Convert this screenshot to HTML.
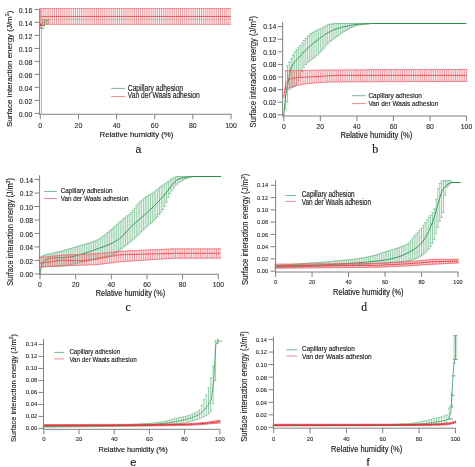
<!DOCTYPE html>
<html><head><meta charset="utf-8"><style>
html,body{margin:0;padding:0;background:#fff;overflow:hidden;}
svg{display:block;will-change:transform;}
text{stroke:#1a1a1a;stroke-width:0.16px;}
text.t{stroke-width:0.08px;}
text.yl{stroke-width:0.12px;}
</style></head><body>
<svg width='475' height='467' viewBox='0 0 475 467' font-family='"Liberation Sans", sans-serif' fill='#1a1a1a' stroke-linejoin='round'>
<rect width="475" height="467" fill="#fff"/>
<line x1="41.6" y1="113.40" x2="41.6" y2="25.00" stroke="#8fd0a5" stroke-width="1"/>
<path d="M42 25.72H45M41 28.32H43.7" stroke="#2a8f4c" stroke-width="1" fill="none"/>
<path d="M42.59 19.48V24.35M44.50 19.48V24.18M46.40 19.48V24.01M48.31 19.48V23.84" stroke="#7a9a60" stroke-width="0.7" fill="none" opacity="1.0"/>
<path d="M41.59 19.48H43.59M41.59 24.35H43.59M43.50 19.48H45.50M43.50 24.18H45.50M45.40 19.48H47.40M45.40 24.01H47.40M47.31 19.48H49.31M47.31 23.84H49.31" stroke="#7a9a60" stroke-width="0.7" fill="none" opacity="1.0"/>
<polyline points="42.59,23.05 42.68,23.00 42.77,22.95 42.86,22.89 42.96,22.84 43.05,22.79 43.14,22.74 43.23,22.69 43.32,22.63 43.41,22.58 43.51,22.53 43.60,22.48 43.69,22.42 43.78,22.37 43.87,22.32 43.96,22.27 44.06,22.22 44.15,22.16 44.24,22.11 44.33,22.06 44.42,22.01 44.51,21.96 44.61,21.90 44.70,21.85 44.79,21.80 44.88,21.75 44.97,21.70 45.07,21.64 45.16,21.59 45.25,21.54 45.34,21.49 45.43,21.43 45.52,21.38 45.62,21.33 45.71,21.28 45.80,21.23 45.89,21.17 45.98,21.12 46.07,21.08 46.17,21.04 46.26,21.00 46.35,20.96 46.44,20.92 46.53,20.88 46.62,20.84 46.72,20.80 46.81,20.76 46.90,20.73 46.99,20.69 47.08,20.65 47.17,20.61 47.27,20.57 47.36,20.53 47.45,20.49 47.54,20.45 47.63,20.41 47.73,20.37 47.82,20.33 47.91,20.30 48.00,20.26 48.09,20.22 48.18,20.18 48.28,20.14 48.37,20.10 48.46,20.06 48.55,20.02 48.64,19.98 48.73,19.94 48.83,19.90 48.92,19.87 49.01,19.83 49.10,19.79 49.19,19.75 49.28,19.71 49.38,19.67 49.47,19.63 49.56,19.59 49.65,19.55 49.74,19.51 49.83,19.48" stroke="#6a9a60" stroke-width="0.9" fill="none"/>
<line x1="49.83" y1="19.48" x2="231.00" y2="19.48" stroke="#a8c8a0" stroke-width="1" opacity="0.6"/>
<path d="M41.25 8.49V24.42M43.16 8.49V24.42M45.07 8.49V24.42M46.97 8.49V24.42M48.88 8.49V24.42M50.79 8.49V24.42M52.70 8.49V24.42M54.60 8.49V24.42M56.51 8.49V24.42M58.42 8.49V24.42M60.32 8.49V24.42M62.23 8.49V24.42M64.14 8.49V24.42M66.04 8.49V24.42M67.95 8.49V24.42M69.86 8.49V24.42M71.77 8.49V24.42M73.67 8.49V24.42M75.58 8.49V24.42M77.49 8.49V24.42M79.39 8.49V24.42M81.30 8.49V24.42M83.21 8.49V24.42M85.11 8.49V24.42M87.02 8.49V24.42M88.93 8.49V24.42M90.84 8.49V24.42M92.74 8.49V24.42M94.65 8.49V24.42M96.56 8.49V24.42M98.46 8.49V24.42M100.37 8.49V24.42M102.28 8.49V24.42M104.18 8.49V24.42M106.09 8.49V24.42M108.00 8.49V24.42M109.91 8.49V24.42M111.81 8.49V24.42M113.72 8.49V24.42M115.63 8.49V24.42M117.53 8.49V24.42M119.44 8.49V24.42M121.35 8.49V24.42M123.25 8.49V24.42M125.16 8.49V24.42M127.07 8.49V24.42M128.98 8.49V24.42M130.88 8.49V24.42M132.79 8.49V24.42M134.70 8.49V24.42M136.60 8.49V24.42M138.51 8.49V24.42M140.42 8.49V24.42M142.32 8.49V24.42M144.23 8.49V24.42M146.14 8.49V24.42M148.05 8.49V24.42M149.95 8.49V24.42M151.86 8.49V24.42M153.77 8.49V24.42M155.67 8.49V24.42M157.58 8.49V24.42M159.49 8.49V24.42M161.39 8.49V24.42M163.30 8.49V24.42M165.21 8.49V24.42M167.12 8.49V24.42M169.02 8.49V24.42M170.93 8.49V24.42M172.84 8.49V24.42M174.74 8.49V24.42M176.65 8.49V24.42M178.56 8.49V24.42M180.46 8.49V24.42M182.37 8.49V24.42M184.28 8.49V24.42M186.19 8.49V24.42M188.09 8.49V24.42M190.00 8.49V24.42M191.91 8.49V24.42M193.81 8.49V24.42M195.72 8.49V24.42M197.63 8.49V24.42M199.53 8.49V24.42M201.44 8.49V24.42M203.35 8.49V24.42M205.26 8.49V24.42M207.16 8.49V24.42M209.07 8.49V24.42M210.98 8.49V24.42M212.88 8.49V24.42M214.79 8.49V24.42M216.70 8.49V24.42M218.60 8.49V24.42M220.51 8.49V24.42M222.42 8.49V24.42M224.33 8.49V24.42M226.23 8.49V24.42M228.14 8.49V24.42M230.05 8.49V24.42" stroke="#ee6a72" stroke-width="0.7" fill="none" opacity="1.0"/>
<path d="M40.25 8.49H42.25M40.25 24.42H42.25M42.16 8.49H44.16M42.16 24.42H44.16M44.07 8.49H46.07M44.07 24.42H46.07M45.97 8.49H47.97M45.97 24.42H47.97M47.88 8.49H49.88M47.88 24.42H49.88M49.79 8.49H51.79M49.79 24.42H51.79M51.70 8.49H53.70M51.70 24.42H53.70M53.60 8.49H55.60M53.60 24.42H55.60M55.51 8.49H57.51M55.51 24.42H57.51M57.42 8.49H59.42M57.42 24.42H59.42M59.32 8.49H61.32M59.32 24.42H61.32M61.23 8.49H63.23M61.23 24.42H63.23M63.14 8.49H65.14M63.14 24.42H65.14M65.04 8.49H67.04M65.04 24.42H67.04M66.95 8.49H68.95M66.95 24.42H68.95M68.86 8.49H70.86M68.86 24.42H70.86M70.77 8.49H72.77M70.77 24.42H72.77M72.67 8.49H74.67M72.67 24.42H74.67M74.58 8.49H76.58M74.58 24.42H76.58M76.49 8.49H78.49M76.49 24.42H78.49M78.39 8.49H80.39M78.39 24.42H80.39M80.30 8.49H82.30M80.30 24.42H82.30M82.21 8.49H84.21M82.21 24.42H84.21M84.11 8.49H86.11M84.11 24.42H86.11M86.02 8.49H88.02M86.02 24.42H88.02M87.93 8.49H89.93M87.93 24.42H89.93M89.84 8.49H91.84M89.84 24.42H91.84M91.74 8.49H93.74M91.74 24.42H93.74M93.65 8.49H95.65M93.65 24.42H95.65M95.56 8.49H97.56M95.56 24.42H97.56M97.46 8.49H99.46M97.46 24.42H99.46M99.37 8.49H101.37M99.37 24.42H101.37M101.28 8.49H103.28M101.28 24.42H103.28M103.18 8.49H105.18M103.18 24.42H105.18M105.09 8.49H107.09M105.09 24.42H107.09M107.00 8.49H109.00M107.00 24.42H109.00M108.91 8.49H110.91M108.91 24.42H110.91M110.81 8.49H112.81M110.81 24.42H112.81M112.72 8.49H114.72M112.72 24.42H114.72M114.63 8.49H116.63M114.63 24.42H116.63M116.53 8.49H118.53M116.53 24.42H118.53M118.44 8.49H120.44M118.44 24.42H120.44M120.35 8.49H122.35M120.35 24.42H122.35M122.25 8.49H124.25M122.25 24.42H124.25M124.16 8.49H126.16M124.16 24.42H126.16M126.07 8.49H128.07M126.07 24.42H128.07M127.98 8.49H129.98M127.98 24.42H129.98M129.88 8.49H131.88M129.88 24.42H131.88M131.79 8.49H133.79M131.79 24.42H133.79M133.70 8.49H135.70M133.70 24.42H135.70M135.60 8.49H137.60M135.60 24.42H137.60M137.51 8.49H139.51M137.51 24.42H139.51M139.42 8.49H141.42M139.42 24.42H141.42M141.32 8.49H143.32M141.32 24.42H143.32M143.23 8.49H145.23M143.23 24.42H145.23M145.14 8.49H147.14M145.14 24.42H147.14M147.05 8.49H149.05M147.05 24.42H149.05M148.95 8.49H150.95M148.95 24.42H150.95M150.86 8.49H152.86M150.86 24.42H152.86M152.77 8.49H154.77M152.77 24.42H154.77M154.67 8.49H156.67M154.67 24.42H156.67M156.58 8.49H158.58M156.58 24.42H158.58M158.49 8.49H160.49M158.49 24.42H160.49M160.39 8.49H162.39M160.39 24.42H162.39M162.30 8.49H164.30M162.30 24.42H164.30M164.21 8.49H166.21M164.21 24.42H166.21M166.12 8.49H168.12M166.12 24.42H168.12M168.02 8.49H170.02M168.02 24.42H170.02M169.93 8.49H171.93M169.93 24.42H171.93M171.84 8.49H173.84M171.84 24.42H173.84M173.74 8.49H175.74M173.74 24.42H175.74M175.65 8.49H177.65M175.65 24.42H177.65M177.56 8.49H179.56M177.56 24.42H179.56M179.46 8.49H181.46M179.46 24.42H181.46M181.37 8.49H183.37M181.37 24.42H183.37M183.28 8.49H185.28M183.28 24.42H185.28M185.19 8.49H187.19M185.19 24.42H187.19M187.09 8.49H189.09M187.09 24.42H189.09M189.00 8.49H191.00M189.00 24.42H191.00M190.91 8.49H192.91M190.91 24.42H192.91M192.81 8.49H194.81M192.81 24.42H194.81M194.72 8.49H196.72M194.72 24.42H196.72M196.63 8.49H198.63M196.63 24.42H198.63M198.53 8.49H200.53M198.53 24.42H200.53M200.44 8.49H202.44M200.44 24.42H202.44M202.35 8.49H204.35M202.35 24.42H204.35M204.26 8.49H206.26M204.26 24.42H206.26M206.16 8.49H208.16M206.16 24.42H208.16M208.07 8.49H210.07M208.07 24.42H210.07M209.98 8.49H211.98M209.98 24.42H211.98M211.88 8.49H213.88M211.88 24.42H213.88M213.79 8.49H215.79M213.79 24.42H215.79M215.70 8.49H217.70M215.70 24.42H217.70M217.60 8.49H219.60M217.60 24.42H219.60M219.51 8.49H221.51M219.51 24.42H221.51M221.42 8.49H223.42M221.42 24.42H223.42M223.33 8.49H225.33M223.33 24.42H225.33M225.23 8.49H227.23M225.23 24.42H227.23M227.14 8.49H229.14M227.14 24.42H229.14M229.05 8.49H231.05M229.05 24.42H231.05" stroke="#ee6a72" stroke-width="0.7" fill="none" opacity="1.0"/>
<polyline points="41.25,16.48 43.66,16.48 46.06,16.48 48.46,16.48 50.86,16.48 53.26,16.48 55.66,16.48 58.07,16.48 60.47,16.48 62.87,16.48 65.27,16.48 67.67,16.48 70.08,16.48 72.48,16.48 74.88,16.48 77.28,16.48 79.68,16.48 82.09,16.48 84.49,16.48 86.89,16.48 89.29,16.48 91.69,16.48 94.09,16.48 96.50,16.48 98.90,16.48 101.30,16.48 103.70,16.48 106.10,16.48 108.51,16.48 110.91,16.48 113.31,16.48 115.71,16.48 118.11,16.48 120.51,16.48 122.92,16.48 125.32,16.48 127.72,16.48 130.12,16.48 132.52,16.48 134.93,16.48 137.33,16.48 139.73,16.48 142.13,16.48 144.53,16.48 146.94,16.48 149.34,16.48 151.74,16.48 154.14,16.48 156.54,16.48 158.94,16.48 161.35,16.48 163.75,16.48 166.15,16.48 168.55,16.48 170.95,16.48 173.36,16.48 175.76,16.48 178.16,16.48 180.56,16.48 182.96,16.48 185.36,16.48 187.77,16.48 190.17,16.48 192.57,16.48 194.97,16.48 197.37,16.48 199.78,16.48 202.18,16.48 204.58,16.48 206.98,16.48 209.38,16.48 211.79,16.48 214.19,16.48 216.59,16.48 218.99,16.48 221.39,16.48 223.79,16.48 226.20,16.48 228.60,16.48 231.00,16.48" stroke="#e8474f" stroke-width="0.9" fill="none"/>
<line x1="40.7" y1="8.5" x2="40.7" y2="29" stroke="#ee6a72" stroke-width="0.8"/>
<line x1="40.7" y1="23.5" x2="40.7" y2="26" stroke="#e82020" stroke-width="1.2"/>
<path d="M283.80 114.80V114.80M285.63 86.45V109.11M287.45 65.85V102.20M289.28 62.01V89.60M291.11 58.60V88.12M292.94 54.92V87.44M294.76 51.91V86.45M296.59 49.69V84.09M298.42 47.73V80.45M300.24 45.56V76.10M302.07 43.08V71.61M303.90 40.62V67.56M305.72 38.54V64.52M307.55 36.65V62.66M309.38 34.95V61.24M311.21 33.53V59.88M313.03 32.38V58.47M314.86 31.41V57.09M316.69 30.53V55.61M318.51 29.70V53.95M320.34 28.85V52.14M322.17 27.91V50.22M323.99 26.83V48.18M325.82 25.77V45.84M327.65 24.88V43.74M329.48 24.30V42.08M331.30 24.00V40.62M333.13 23.75V39.27M334.96 23.58V37.94M336.78 23.51V36.61M338.61 23.51V35.33M340.44 23.51V34.10M342.26 23.51V32.90M344.09 23.51V31.71M345.92 23.51V30.54M347.75 23.51V29.44M349.57 23.51V28.49M351.40 23.51V27.63M353.23 23.51V26.82M355.05 23.51V26.08M356.88 23.51V25.47M358.71 23.51V25.03M360.53 23.51V24.72M362.36 23.51V24.47M364.19 23.51V24.26M366.01 23.51V24.07M367.84 23.51V23.89M369.67 23.51V23.71M371.50 23.51V23.51" stroke="#68b885" stroke-width="0.7" fill="none" opacity="1.0"/>
<path d="M282.60 114.80H285.00M282.60 114.80H285.00M284.43 86.45H286.83M284.43 109.11H286.83M286.25 65.85H288.65M286.25 102.20H288.65M288.08 62.01H290.48M288.08 89.60H290.48M289.91 58.60H292.31M289.91 88.12H292.31M291.74 54.92H294.13M291.74 87.44H294.13M293.56 51.91H295.96M293.56 86.45H295.96M295.39 49.69H297.79M295.39 84.09H297.79M297.22 47.73H299.62M297.22 80.45H299.62M299.04 45.56H301.44M299.04 76.10H301.44M300.87 43.08H303.27M300.87 71.61H303.27M302.70 40.62H305.10M302.70 67.56H305.10M304.52 38.54H306.92M304.52 64.52H306.92M306.35 36.65H308.75M306.35 62.66H308.75M308.18 34.95H310.58M308.18 61.24H310.58M310.01 33.53H312.41M310.01 59.88H312.41M311.83 32.38H314.23M311.83 58.47H314.23M313.66 31.41H316.06M313.66 57.09H316.06M315.49 30.53H317.89M315.49 55.61H317.89M317.31 29.70H319.71M317.31 53.95H319.71M319.14 28.85H321.54M319.14 52.14H321.54M320.97 27.91H323.37M320.97 50.22H323.37M322.79 26.83H325.19M322.79 48.18H325.19M324.62 25.77H327.02M324.62 45.84H327.02M326.45 24.88H328.85M326.45 43.74H328.85M328.28 24.30H330.68M328.28 42.08H330.68M330.10 24.00H332.50M330.10 40.62H332.50M331.93 23.75H334.33M331.93 39.27H334.33M333.76 23.58H336.16M333.76 37.94H336.16M335.58 23.51H337.98M335.58 36.61H337.98M337.41 23.51H339.81M337.41 35.33H339.81M339.24 23.51H341.64M339.24 34.10H341.64M341.06 23.51H343.46M341.06 32.90H343.46M342.89 23.51H345.29M342.89 31.71H345.29M344.72 23.51H347.12M344.72 30.54H347.12M346.55 23.51H348.94M346.55 29.44H348.94M348.37 23.51H350.77M348.37 28.49H350.77M350.20 23.51H352.60M350.20 27.63H352.60M352.03 23.51H354.43M352.03 26.82H354.43M353.85 23.51H356.25M353.85 26.08H356.25M355.68 23.51H358.08M355.68 25.47H358.08M357.51 23.51H359.91M357.51 25.03H359.91M359.33 23.51H361.73M359.33 24.72H361.73M361.16 23.51H363.56M361.16 24.47H363.56M362.99 23.51H365.39M362.99 24.26H365.39M364.81 23.51H367.21M364.81 24.07H367.21M366.64 23.51H369.04M366.64 23.89H369.04M368.47 23.51H370.87M368.47 23.71H370.87M370.30 23.51H372.70M370.30 23.51H372.70" stroke="#68b885" stroke-width="0.7" fill="none" opacity="1.0"/>
<polyline points="283.80,114.80 284.91,102.40 286.02,93.45 287.13,88.03 288.24,82.08 289.35,75.53 290.46,70.04 291.57,66.98 292.68,64.90 293.79,63.21 294.90,61.81 296.01,60.59 297.12,59.46 298.23,58.31 299.34,57.05 300.45,55.75 301.56,54.49 302.67,53.26 303.78,52.07 304.89,50.92 306.00,49.80 307.11,48.72 308.22,47.68 309.33,46.68 310.44,45.71 311.55,44.77 312.66,43.85 313.77,42.95 314.88,42.06 315.99,41.18 317.10,40.31 318.21,39.46 319.32,38.62 320.43,37.80 321.54,37.00 322.65,36.22 323.76,35.46 324.87,34.70 325.98,33.95 327.09,33.22 328.20,32.54 329.31,31.91 330.42,31.35 331.53,30.83 332.64,30.34 333.75,29.88 334.86,29.44 335.97,29.04 337.08,28.66 338.19,28.30 339.30,27.97 340.41,27.66 341.52,27.37 342.63,27.09 343.74,26.83 344.85,26.58 345.96,26.34 347.07,26.11 348.18,25.88 349.29,25.65 350.40,25.43 351.51,25.21 352.62,25.00 353.73,24.81 354.84,24.64 355.95,24.49 357.07,24.38 358.18,24.28 359.29,24.20 360.40,24.12 361.51,24.05 362.62,23.98 363.73,23.92 364.84,23.86 365.95,23.81 367.06,23.75 368.17,23.69 369.28,23.64 370.39,23.58 371.50,23.51" stroke="#2a8f4c" stroke-width="0.9" fill="none"/>
<line x1="371.50" y1="23.51" x2="466.50" y2="23.51" stroke="#2a8f4c" stroke-width="1"/>
<path d="M283.80 95.90V97.16M285.63 70.70V89.60M287.45 70.66V88.24M289.28 70.63V87.41M291.11 70.59V86.89M292.94 70.56V86.45M294.76 70.52V85.99M296.59 70.49V85.57M298.42 70.46V85.18M300.24 70.43V84.82M302.07 70.40V84.50M303.90 70.37V84.21M305.72 70.34V83.94M307.55 70.32V83.70M309.38 70.29V83.49M311.21 70.26V83.30M313.03 70.24V83.12M314.86 70.21V82.95M316.69 70.19V82.78M318.51 70.17V82.62M320.34 70.15V82.47M322.17 70.13V82.34M323.99 70.11V82.23M325.82 70.09V82.14M327.65 70.07V82.08M329.48 70.05V82.04M331.30 70.03V82.02M333.13 70.02V82.00M334.96 70.00V81.98M336.78 69.98V81.96M338.61 69.97V81.95M340.44 69.95V81.93M342.26 69.94V81.91M344.09 69.93V81.90M345.92 69.91V81.88M347.75 69.90V81.87M349.57 69.89V81.85M351.40 69.88V81.84M353.23 69.87V81.83M355.05 69.86V81.81M356.88 69.84V81.80M358.71 69.84V81.79M360.53 69.83V81.78M362.36 69.82V81.77M364.19 69.81V81.75M366.01 69.80V81.74M367.84 69.79V81.73M369.67 69.78V81.72M371.50 69.78V81.72M373.32 69.77V81.71M375.15 69.76V81.70M376.98 69.76V81.69M378.80 69.75V81.68M380.63 69.74V81.67M382.46 69.74V81.67M384.29 69.73V81.66M386.11 69.73V81.65M387.94 69.72V81.65M389.77 69.72V81.64M391.59 69.71V81.63M393.42 69.71V81.63M395.25 69.70V81.62M397.07 69.70V81.62M398.90 69.69V81.61M400.73 69.69V81.61M402.56 69.69V81.60M404.38 69.68V81.60M406.21 69.68V81.59M408.04 69.67V81.59M409.86 69.67V81.58M411.69 69.66V81.58M413.52 69.66V81.57M415.34 69.65V81.57M417.17 69.65V81.56M419.00 69.64V81.56M420.83 69.64V81.55M422.65 69.64V81.55M424.48 69.63V81.55M426.31 69.62V81.54M428.13 69.62V81.54M429.96 69.61V81.53M431.79 69.61V81.53M433.61 69.60V81.52M435.44 69.60V81.52M437.27 69.59V81.51M439.10 69.58V81.51M440.92 69.58V81.50M442.75 69.57V81.50M444.58 69.56V81.49M446.40 69.55V81.49M448.23 69.54V81.48M450.06 69.54V81.47M451.88 69.53V81.47M453.71 69.52V81.46M455.54 69.51V81.46M457.37 69.50V81.45M459.19 69.49V81.44M461.02 69.48V81.43M462.85 69.46V81.43M464.67 69.45V81.42M466.50 69.44V81.41" stroke="#ee6a72" stroke-width="0.7" fill="none" opacity="1.0"/>
<path d="M282.60 95.90H285.00M282.60 97.16H285.00M284.43 70.70H286.83M284.43 89.60H286.83M286.25 70.66H288.65M286.25 88.24H288.65M288.08 70.63H290.48M288.08 87.41H290.48M289.91 70.59H292.31M289.91 86.89H292.31M291.74 70.56H294.13M291.74 86.45H294.13M293.56 70.52H295.96M293.56 85.99H295.96M295.39 70.49H297.79M295.39 85.57H297.79M297.22 70.46H299.62M297.22 85.18H299.62M299.04 70.43H301.44M299.04 84.82H301.44M300.87 70.40H303.27M300.87 84.50H303.27M302.70 70.37H305.10M302.70 84.21H305.10M304.52 70.34H306.92M304.52 83.94H306.92M306.35 70.32H308.75M306.35 83.70H308.75M308.18 70.29H310.58M308.18 83.49H310.58M310.01 70.26H312.41M310.01 83.30H312.41M311.83 70.24H314.23M311.83 83.12H314.23M313.66 70.21H316.06M313.66 82.95H316.06M315.49 70.19H317.89M315.49 82.78H317.89M317.31 70.17H319.71M317.31 82.62H319.71M319.14 70.15H321.54M319.14 82.47H321.54M320.97 70.13H323.37M320.97 82.34H323.37M322.79 70.11H325.19M322.79 82.23H325.19M324.62 70.09H327.02M324.62 82.14H327.02M326.45 70.07H328.85M326.45 82.08H328.85M328.28 70.05H330.68M328.28 82.04H330.68M330.10 70.03H332.50M330.10 82.02H332.50M331.93 70.02H334.33M331.93 82.00H334.33M333.76 70.00H336.16M333.76 81.98H336.16M335.58 69.98H337.98M335.58 81.96H337.98M337.41 69.97H339.81M337.41 81.95H339.81M339.24 69.95H341.64M339.24 81.93H341.64M341.06 69.94H343.46M341.06 81.91H343.46M342.89 69.93H345.29M342.89 81.90H345.29M344.72 69.91H347.12M344.72 81.88H347.12M346.55 69.90H348.94M346.55 81.87H348.94M348.37 69.89H350.77M348.37 81.85H350.77M350.20 69.88H352.60M350.20 81.84H352.60M352.03 69.87H354.43M352.03 81.83H354.43M353.85 69.86H356.25M353.85 81.81H356.25M355.68 69.84H358.08M355.68 81.80H358.08M357.51 69.84H359.91M357.51 81.79H359.91M359.33 69.83H361.73M359.33 81.78H361.73M361.16 69.82H363.56M361.16 81.77H363.56M362.99 69.81H365.39M362.99 81.75H365.39M364.81 69.80H367.21M364.81 81.74H367.21M366.64 69.79H369.04M366.64 81.73H369.04M368.47 69.78H370.87M368.47 81.72H370.87M370.30 69.78H372.70M370.30 81.72H372.70M372.12 69.77H374.52M372.12 81.71H374.52M373.95 69.76H376.35M373.95 81.70H376.35M375.78 69.76H378.18M375.78 81.69H378.18M377.60 69.75H380.00M377.60 81.68H380.00M379.43 69.74H381.83M379.43 81.67H381.83M381.26 69.74H383.66M381.26 81.67H383.66M383.09 69.73H385.49M383.09 81.66H385.49M384.91 69.73H387.31M384.91 81.65H387.31M386.74 69.72H389.14M386.74 81.65H389.14M388.57 69.72H390.97M388.57 81.64H390.97M390.39 69.71H392.79M390.39 81.63H392.79M392.22 69.71H394.62M392.22 81.63H394.62M394.05 69.70H396.45M394.05 81.62H396.45M395.87 69.70H398.27M395.87 81.62H398.27M397.70 69.69H400.10M397.70 81.61H400.10M399.53 69.69H401.93M399.53 81.61H401.93M401.36 69.69H403.75M401.36 81.60H403.75M403.18 69.68H405.58M403.18 81.60H405.58M405.01 69.68H407.41M405.01 81.59H407.41M406.84 69.67H409.24M406.84 81.59H409.24M408.66 69.67H411.06M408.66 81.58H411.06M410.49 69.66H412.89M410.49 81.58H412.89M412.32 69.66H414.72M412.32 81.57H414.72M414.14 69.65H416.54M414.14 81.57H416.54M415.97 69.65H418.37M415.97 81.56H418.37M417.80 69.64H420.20M417.80 81.56H420.20M419.63 69.64H422.03M419.63 81.55H422.03M421.45 69.64H423.85M421.45 81.55H423.85M423.28 69.63H425.68M423.28 81.55H425.68M425.11 69.62H427.51M425.11 81.54H427.51M426.93 69.62H429.33M426.93 81.54H429.33M428.76 69.61H431.16M428.76 81.53H431.16M430.59 69.61H432.99M430.59 81.53H432.99M432.41 69.60H434.81M432.41 81.52H434.81M434.24 69.60H436.64M434.24 81.52H436.64M436.07 69.59H438.47M436.07 81.51H438.47M437.90 69.58H440.30M437.90 81.51H440.30M439.72 69.58H442.12M439.72 81.50H442.12M441.55 69.57H443.95M441.55 81.50H443.95M443.38 69.56H445.78M443.38 81.49H445.78M445.20 69.55H447.60M445.20 81.49H447.60M447.03 69.54H449.43M447.03 81.48H449.43M448.86 69.54H451.26M448.86 81.47H451.26M450.68 69.53H453.08M450.68 81.47H453.08M452.51 69.52H454.91M452.51 81.46H454.91M454.34 69.51H456.74M454.34 81.46H456.74M456.17 69.50H458.56M456.17 81.45H458.56M457.99 69.49H460.39M457.99 81.44H460.39M459.82 69.48H462.22M459.82 81.43H462.22M461.65 69.46H464.05M461.65 81.43H464.05M463.47 69.45H465.87M463.47 81.42H465.87M465.30 69.44H467.70M465.30 81.41H467.70" stroke="#ee6a72" stroke-width="0.7" fill="none" opacity="1.0"/>
<polyline points="283.80,95.90 286.11,82.61 288.43,80.15 290.74,78.82 293.05,78.24 295.36,77.93 297.68,77.67 299.99,77.45 302.30,77.27 304.61,77.12 306.93,76.99 309.24,76.88 311.55,76.78 313.86,76.68 316.18,76.58 318.49,76.47 320.80,76.34 323.12,76.19 325.43,76.04 327.74,75.88 330.05,75.73 332.37,75.60 334.68,75.50 336.99,75.44 339.30,75.42 341.62,75.42 343.93,75.42 346.24,75.42 348.55,75.42 350.87,75.42 353.18,75.42 355.49,75.42 357.81,75.42 360.12,75.42 362.43,75.42 364.74,75.42 367.06,75.42 369.37,75.42 371.68,75.42 373.99,75.42 376.31,75.42 378.62,75.42 380.93,75.42 383.24,75.42 385.56,75.42 387.87,75.42 390.18,75.42 392.49,75.42 394.81,75.42 397.12,75.42 399.43,75.42 401.75,75.42 404.06,75.42 406.37,75.42 408.68,75.42 411.00,75.42 413.31,75.42 415.62,75.42 417.93,75.42 420.25,75.42 422.56,75.42 424.87,75.42 427.18,75.42 429.50,75.42 431.81,75.42 434.12,75.42 436.44,75.42 438.75,75.42 441.06,75.42 443.37,75.42 445.69,75.42 448.00,75.42 450.31,75.42 452.62,75.42 454.94,75.42 457.25,75.42 459.56,75.42 461.87,75.42 464.19,75.42 466.50,75.42" stroke="#e8474f" stroke-width="0.9" fill="none"/>
<path d="M40.00 273.90V273.90M41.78 256.44V267.09M43.57 255.41V266.85M45.35 254.80V266.67M47.13 254.45V266.53M48.91 254.16V266.43M50.70 253.77V266.36M52.48 253.30V266.31M54.26 252.87V266.27M56.05 252.45V266.23M57.83 252.03V266.18M59.61 251.61V266.11M61.40 251.18V266.02M63.18 250.71V265.88M64.96 250.22V265.69M66.75 249.70V265.44M68.53 249.17V265.14M70.31 248.63V264.80M72.09 248.08V264.42M73.88 247.53V264.02M75.66 246.99V263.61M77.44 246.47V263.18M79.23 245.95V262.76M81.01 245.44V262.35M82.79 244.92V261.95M84.58 244.39V261.54M86.36 243.85V261.11M88.14 243.28V260.68M89.92 242.70V260.23M91.71 242.13V259.78M93.49 241.53V259.33M95.27 240.86V258.87M97.06 240.10V258.42M98.84 239.18V257.99M100.62 238.07V257.60M102.41 236.81V257.24M104.19 235.43V256.88M105.97 233.97V256.52M107.75 232.47V256.13M109.54 230.97V255.69M111.32 229.50V255.18M113.10 227.95V254.60M114.89 226.33V253.91M116.67 224.69V252.90M118.45 223.06V251.31M120.24 221.49V249.76M122.02 220.02V248.35M123.80 218.62V246.98M125.58 217.23V245.62M127.37 215.79V244.25M129.15 214.27V242.85M130.93 212.59V241.41M132.72 210.61V239.91M134.50 208.26V238.36M136.28 205.85V236.75M138.06 203.69V235.12M139.85 201.94V233.46M141.63 200.39V231.76M143.41 198.97V230.01M145.20 197.66V228.26M146.98 196.48V226.55M148.76 195.43V224.95M150.55 194.40V223.43M152.33 193.30V221.92M154.11 192.02V220.31M155.89 190.56V218.51M157.68 189.05V216.56M159.46 187.63V214.48M161.24 186.33V212.17M163.03 185.09V209.56M164.81 183.87V206.50M166.59 182.60V202.18M168.38 181.26V197.48M170.16 179.97V193.73M171.94 178.87V190.74M173.72 177.83V188.10M175.51 176.91V185.87M177.29 176.51V184.08M179.07 176.51V182.58M180.86 176.51V181.29M182.64 176.51V180.21M184.42 176.51V179.29M186.21 176.51V178.50M187.99 176.51V177.85M189.77 176.51V177.35M191.56 176.51V176.93M193.34 176.51V176.51" stroke="#68b885" stroke-width="0.7" fill="none" opacity="1.0"/>
<path d="M38.80 273.90H41.20M38.80 273.90H41.20M40.58 256.44H42.98M40.58 267.09H42.98M42.37 255.41H44.77M42.37 266.85H44.77M44.15 254.80H46.55M44.15 266.67H46.55M45.93 254.45H48.33M45.93 266.53H48.33M47.71 254.16H50.12M47.71 266.43H50.12M49.50 253.77H51.90M49.50 266.36H51.90M51.28 253.30H53.68M51.28 266.31H53.68M53.06 252.87H55.46M53.06 266.27H55.46M54.85 252.45H57.25M54.85 266.23H57.25M56.63 252.03H59.03M56.63 266.18H59.03M58.41 251.61H60.81M58.41 266.11H60.81M60.20 251.18H62.60M60.20 266.02H62.60M61.98 250.71H64.38M61.98 265.88H64.38M63.76 250.22H66.16M63.76 265.69H66.16M65.55 249.70H67.95M65.55 265.44H67.95M67.33 249.17H69.73M67.33 265.14H69.73M69.11 248.63H71.51M69.11 264.80H71.51M70.89 248.08H73.29M70.89 264.42H73.29M72.68 247.53H75.08M72.68 264.02H75.08M74.46 246.99H76.86M74.46 263.61H76.86M76.24 246.47H78.64M76.24 263.18H78.64M78.03 245.95H80.43M78.03 262.76H80.43M79.81 245.44H82.21M79.81 262.35H82.21M81.59 244.92H83.99M81.59 261.95H83.99M83.38 244.39H85.78M83.38 261.54H85.78M85.16 243.85H87.56M85.16 261.11H87.56M86.94 243.28H89.34M86.94 260.68H89.34M88.72 242.70H91.12M88.72 260.23H91.12M90.51 242.13H92.91M90.51 259.78H92.91M92.29 241.53H94.69M92.29 259.33H94.69M94.07 240.86H96.47M94.07 258.87H96.47M95.86 240.10H98.26M95.86 258.42H98.26M97.64 239.18H100.04M97.64 257.99H100.04M99.42 238.07H101.82M99.42 257.60H101.82M101.20 236.81H103.61M101.20 257.24H103.61M102.99 235.43H105.39M102.99 256.88H105.39M104.77 233.97H107.17M104.77 256.52H107.17M106.55 232.47H108.95M106.55 256.13H108.95M108.34 230.97H110.74M108.34 255.69H110.74M110.12 229.50H112.52M110.12 255.18H112.52M111.90 227.95H114.30M111.90 254.60H114.30M113.69 226.33H116.09M113.69 253.91H116.09M115.47 224.69H117.87M115.47 252.90H117.87M117.25 223.06H119.65M117.25 251.31H119.65M119.04 221.49H121.44M119.04 249.76H121.44M120.82 220.02H123.22M120.82 248.35H123.22M122.60 218.62H125.00M122.60 246.98H125.00M124.38 217.23H126.78M124.38 245.62H126.78M126.17 215.79H128.57M126.17 244.25H128.57M127.95 214.27H130.35M127.95 242.85H130.35M129.73 212.59H132.13M129.73 241.41H132.13M131.52 210.61H133.92M131.52 239.91H133.92M133.30 208.26H135.70M133.30 238.36H135.70M135.08 205.85H137.48M135.08 236.75H137.48M136.87 203.69H139.26M136.87 235.12H139.26M138.65 201.94H141.05M138.65 233.46H141.05M140.43 200.39H142.83M140.43 231.76H142.83M142.21 198.97H144.61M142.21 230.01H144.61M144.00 197.66H146.40M144.00 228.26H146.40M145.78 196.48H148.18M145.78 226.55H148.18M147.56 195.43H149.96M147.56 224.95H149.96M149.35 194.40H151.75M149.35 223.43H151.75M151.13 193.30H153.53M151.13 221.92H153.53M152.91 192.02H155.31M152.91 220.31H155.31M154.69 190.56H157.09M154.69 218.51H157.09M156.48 189.05H158.88M156.48 216.56H158.88M158.26 187.63H160.66M158.26 214.48H160.66M160.04 186.33H162.44M160.04 212.17H162.44M161.83 185.09H164.23M161.83 209.56H164.23M163.61 183.87H166.01M163.61 206.50H166.01M165.39 182.60H167.79M165.39 202.18H167.79M167.18 181.26H169.58M167.18 197.48H169.58M168.96 179.97H171.36M168.96 193.73H171.36M170.74 178.87H173.14M170.74 190.74H173.14M172.53 177.83H174.92M172.53 188.10H174.92M174.31 176.91H176.71M174.31 185.87H176.71M176.09 176.51H178.49M176.09 184.08H178.49M177.87 176.51H180.27M177.87 182.58H180.27M179.66 176.51H182.06M179.66 181.29H182.06M181.44 176.51H183.84M181.44 180.21H183.84M183.22 176.51H185.62M183.22 179.29H185.62M185.01 176.51H187.41M185.01 178.50H187.41M186.79 176.51H189.19M186.79 177.85H189.19M188.57 176.51H190.97M188.57 177.35H190.97M190.36 176.51H192.75M190.36 176.93H192.75M192.14 176.51H194.54M192.14 176.51H194.54" stroke="#68b885" stroke-width="0.7" fill="none" opacity="1.0"/>
<polyline points="40.00,273.90 41.94,263.58 43.88,261.39 45.82,259.91 47.76,258.98 49.70,258.46 51.65,258.19 53.59,258.00 55.53,257.85 57.47,257.74 59.41,257.66 61.35,257.58 63.29,257.50 65.23,257.40 67.17,257.27 69.11,257.10 71.06,256.85 73.00,256.48 74.94,256.01 76.88,255.48 78.82,254.91 80.76,254.33 82.70,253.77 84.64,253.19 86.58,252.58 88.52,251.94 90.47,251.28 92.41,250.60 94.35,249.92 96.29,249.23 98.23,248.54 100.17,247.87 102.11,247.21 104.05,246.53 105.99,245.82 107.93,245.06 109.88,244.24 111.82,243.33 113.76,242.30 115.70,241.15 117.64,239.87 119.58,238.47 121.52,236.88 123.46,235.02 125.40,232.97 127.34,230.82 129.29,228.66 131.23,226.57 133.17,224.64 135.11,222.89 137.05,221.22 138.99,219.60 140.93,218.00 142.87,216.37 144.81,214.69 146.75,212.93 148.70,211.13 150.64,209.29 152.58,207.42 154.52,205.49 156.46,203.52 158.40,201.51 160.34,199.47 162.28,197.36 164.22,195.18 166.16,192.88 168.11,190.35 170.05,187.47 171.99,184.80 173.93,182.75 175.87,180.92 177.81,179.47 179.75,178.64 181.69,178.09 183.63,177.65 185.57,177.31 187.52,177.04 189.46,176.82 191.40,176.66 193.34,176.51" stroke="#2a8f4c" stroke-width="0.9" fill="none"/>
<line x1="193.34" y1="176.51" x2="220.97" y2="176.51" stroke="#2a8f4c" stroke-width="1"/>
<path d="M40.00 257.45V267.09M41.78 257.27V267.00M43.57 257.09V266.91M45.35 256.91V266.81M47.13 256.73V266.72M48.91 256.55V266.63M50.70 256.37V266.53M52.48 256.18V266.44M54.26 256.00V266.35M56.05 255.82V266.25M57.83 255.64V266.16M59.61 255.46V266.07M61.40 255.28V265.97M63.18 255.10V265.88M64.96 255.03V265.81M66.75 254.96V265.75M68.53 254.89V265.68M70.31 254.83V265.61M72.09 254.76V265.55M73.88 254.69V265.48M75.66 254.62V265.41M77.44 254.56V265.35M79.23 254.49V265.28M81.01 254.42V265.21M82.79 254.35V265.15M84.58 254.29V265.08M86.36 254.22V265.01M88.14 254.15V264.95M89.92 254.08V264.88M91.71 254.02V264.81M93.49 253.95V264.75M95.27 253.88V264.68M97.06 253.81V264.61M98.84 253.61V264.42M100.62 253.41V264.19M102.41 253.21V263.97M104.19 253.01V263.75M105.97 252.81V263.52M107.75 252.61V263.30M109.54 252.41V263.07M111.32 252.21V262.85M113.10 252.01V262.62M114.89 251.81V262.40M116.67 251.61V262.17M118.45 251.41V261.95M120.24 251.24V261.74M122.02 251.16V261.63M123.80 251.08V261.51M125.58 251.00V261.39M127.37 250.92V261.27M129.15 250.84V261.15M130.93 250.76V261.03M132.72 250.68V260.92M134.50 250.59V260.80M136.28 250.51V260.68M138.06 250.43V260.56M139.85 250.35V260.44M141.63 250.27V260.32M143.41 250.19V260.21M145.20 250.11V260.09M146.98 250.03V259.97M148.76 249.95V259.85M150.55 249.87V259.73M152.33 249.79V259.62M154.11 249.71V259.50M155.89 249.63V259.38M157.68 249.55V259.26M159.46 249.47V259.14M161.24 249.39V259.02M163.03 249.31V258.91M164.81 249.23V258.79M166.59 249.15V258.67M168.38 249.07V258.55M170.16 248.99V258.43M171.94 248.91V258.31M173.72 248.83V258.20M175.51 248.83V258.20M177.29 248.83V258.20M179.07 248.83V258.20M180.86 248.83V258.20M182.64 248.83V258.20M184.42 248.83V258.20M186.21 248.83V258.20M187.99 248.83V258.20M189.77 248.83V258.20M191.56 248.83V258.20M193.34 248.83V258.20M195.12 248.83V258.20M196.90 248.83V258.20M198.69 248.83V258.20M200.47 248.83V258.20M202.25 248.83V258.20M204.04 248.83V258.20M205.82 248.83V258.20M207.60 248.83V258.20M209.38 248.83V258.20M211.17 248.83V258.20M212.95 248.83V258.20M214.73 248.83V258.20M216.52 248.83V258.20M218.30 248.83V258.20M220.08 248.83V258.20" stroke="#ee6a72" stroke-width="0.7" fill="none" opacity="1.0"/>
<path d="M38.80 257.45H41.20M38.80 267.09H41.20M40.58 257.27H42.98M40.58 267.00H42.98M42.37 257.09H44.77M42.37 266.91H44.77M44.15 256.91H46.55M44.15 266.81H46.55M45.93 256.73H48.33M45.93 266.72H48.33M47.71 256.55H50.12M47.71 266.63H50.12M49.50 256.37H51.90M49.50 266.53H51.90M51.28 256.18H53.68M51.28 266.44H53.68M53.06 256.00H55.46M53.06 266.35H55.46M54.85 255.82H57.25M54.85 266.25H57.25M56.63 255.64H59.03M56.63 266.16H59.03M58.41 255.46H60.81M58.41 266.07H60.81M60.20 255.28H62.60M60.20 265.97H62.60M61.98 255.10H64.38M61.98 265.88H64.38M63.76 255.03H66.16M63.76 265.81H66.16M65.55 254.96H67.95M65.55 265.75H67.95M67.33 254.89H69.73M67.33 265.68H69.73M69.11 254.83H71.51M69.11 265.61H71.51M70.89 254.76H73.29M70.89 265.55H73.29M72.68 254.69H75.08M72.68 265.48H75.08M74.46 254.62H76.86M74.46 265.41H76.86M76.24 254.56H78.64M76.24 265.35H78.64M78.03 254.49H80.43M78.03 265.28H80.43M79.81 254.42H82.21M79.81 265.21H82.21M81.59 254.35H83.99M81.59 265.15H83.99M83.38 254.29H85.78M83.38 265.08H85.78M85.16 254.22H87.56M85.16 265.01H87.56M86.94 254.15H89.34M86.94 264.95H89.34M88.72 254.08H91.12M88.72 264.88H91.12M90.51 254.02H92.91M90.51 264.81H92.91M92.29 253.95H94.69M92.29 264.75H94.69M94.07 253.88H96.47M94.07 264.68H96.47M95.86 253.81H98.26M95.86 264.61H98.26M97.64 253.61H100.04M97.64 264.42H100.04M99.42 253.41H101.82M99.42 264.19H101.82M101.20 253.21H103.61M101.20 263.97H103.61M102.99 253.01H105.39M102.99 263.75H105.39M104.77 252.81H107.17M104.77 263.52H107.17M106.55 252.61H108.95M106.55 263.30H108.95M108.34 252.41H110.74M108.34 263.07H110.74M110.12 252.21H112.52M110.12 262.85H112.52M111.90 252.01H114.30M111.90 262.62H114.30M113.69 251.81H116.09M113.69 262.40H116.09M115.47 251.61H117.87M115.47 262.17H117.87M117.25 251.41H119.65M117.25 261.95H119.65M119.04 251.24H121.44M119.04 261.74H121.44M120.82 251.16H123.22M120.82 261.63H123.22M122.60 251.08H125.00M122.60 261.51H125.00M124.38 251.00H126.78M124.38 261.39H126.78M126.17 250.92H128.57M126.17 261.27H128.57M127.95 250.84H130.35M127.95 261.15H130.35M129.73 250.76H132.13M129.73 261.03H132.13M131.52 250.68H133.92M131.52 260.92H133.92M133.30 250.59H135.70M133.30 260.80H135.70M135.08 250.51H137.48M135.08 260.68H137.48M136.87 250.43H139.26M136.87 260.56H139.26M138.65 250.35H141.05M138.65 260.44H141.05M140.43 250.27H142.83M140.43 260.32H142.83M142.21 250.19H144.61M142.21 260.21H144.61M144.00 250.11H146.40M144.00 260.09H146.40M145.78 250.03H148.18M145.78 259.97H148.18M147.56 249.95H149.96M147.56 259.85H149.96M149.35 249.87H151.75M149.35 259.73H151.75M151.13 249.79H153.53M151.13 259.62H153.53M152.91 249.71H155.31M152.91 259.50H155.31M154.69 249.63H157.09M154.69 259.38H157.09M156.48 249.55H158.88M156.48 259.26H158.88M158.26 249.47H160.66M158.26 259.14H160.66M160.04 249.39H162.44M160.04 259.02H162.44M161.83 249.31H164.23M161.83 258.91H164.23M163.61 249.23H166.01M163.61 258.79H166.01M165.39 249.15H167.79M165.39 258.67H167.79M167.18 249.07H169.58M167.18 258.55H169.58M168.96 248.99H171.36M168.96 258.43H171.36M170.74 248.91H173.14M170.74 258.31H173.14M172.53 248.83H174.92M172.53 258.20H174.92M174.31 248.83H176.71M174.31 258.20H176.71M176.09 248.83H178.49M176.09 258.20H178.49M177.87 248.83H180.27M177.87 258.20H180.27M179.66 248.83H182.06M179.66 258.20H182.06M181.44 248.83H183.84M181.44 258.20H183.84M183.22 248.83H185.62M183.22 258.20H185.62M185.01 248.83H187.41M185.01 258.20H187.41M186.79 248.83H189.19M186.79 258.20H189.19M188.57 248.83H190.97M188.57 258.20H190.97M190.36 248.83H192.75M190.36 258.20H192.75M192.14 248.83H194.54M192.14 258.20H194.54M193.92 248.83H196.32M193.92 258.20H196.32M195.70 248.83H198.10M195.70 258.20H198.10M197.49 248.83H199.89M197.49 258.20H199.89M199.27 248.83H201.67M199.27 258.20H201.67M201.05 248.83H203.45M201.05 258.20H203.45M202.84 248.83H205.24M202.84 258.20H205.24M204.62 248.83H207.02M204.62 258.20H207.02M206.40 248.83H208.80M206.40 258.20H208.80M208.19 248.83H210.58M208.19 258.20H210.58M209.97 248.83H212.37M209.97 258.20H212.37M211.75 248.83H214.15M211.75 258.20H214.15M213.53 248.83H215.93M213.53 258.20H215.93M215.32 248.83H217.72M215.32 258.20H217.72M217.10 248.83H219.50M217.10 258.20H219.50M218.88 248.83H221.28M218.88 258.20H221.28" stroke="#ee6a72" stroke-width="0.7" fill="none" opacity="1.0"/>
<polyline points="40.00,263.32 42.28,262.97 44.56,262.63 46.84,262.28 49.12,261.94 51.40,261.59 53.68,261.25 55.96,260.91 58.24,260.56 60.52,260.22 62.80,260.28 65.07,260.35 67.35,260.41 69.63,260.47 71.91,260.54 74.19,260.60 76.47,260.67 78.75,260.73 81.03,260.79 83.31,260.67 85.59,260.39 87.87,260.11 90.15,259.83 92.43,259.55 94.71,259.27 96.99,258.99 99.27,258.59 101.55,258.17 103.83,257.74 106.11,257.32 108.39,256.90 110.67,256.47 112.95,256.05 115.22,255.62 117.50,255.20 119.78,254.78 122.06,254.70 124.34,254.64 126.62,254.58 128.90,254.52 131.18,254.46 133.46,254.40 135.74,254.34 138.02,254.28 140.30,254.22 142.58,254.16 144.86,254.10 147.14,254.04 149.42,253.98 151.70,253.92 153.98,253.86 156.26,253.80 158.54,253.74 160.82,253.68 163.09,253.62 165.37,253.56 167.65,253.50 169.93,253.44 172.21,253.38 174.49,253.34 176.77,253.34 179.05,253.34 181.33,253.34 183.61,253.34 185.89,253.34 188.17,253.34 190.45,253.34 192.73,253.34 195.01,253.34 197.29,253.34 199.57,253.34 201.85,253.34 204.13,253.34 206.41,253.34 208.69,253.34 210.96,253.34 213.24,253.34 215.52,253.34 217.80,253.34 220.08,253.34" stroke="#e8474f" stroke-width="0.9" fill="none"/>
<path d="M275.60 265.68V267.52M277.42 265.54V267.46M279.25 265.41V267.40M281.07 265.27V267.34M282.90 265.14V267.28M284.72 265.00V267.21M286.54 264.87V267.15M288.37 264.73V267.09M290.19 264.60V267.03M292.02 264.47V266.97M293.84 264.33V266.91M295.66 264.19V266.85M297.49 264.06V266.79M299.31 263.92V266.73M301.14 263.78V266.67M302.96 263.64V266.61M304.78 263.50V266.54M306.61 263.36V266.48M308.43 263.21V266.42M310.26 263.07V266.36M312.08 262.93V266.29M313.90 262.78V266.23M315.73 262.64V266.17M317.55 262.49V266.10M319.38 262.35V266.04M321.20 262.20V265.98M323.02 262.05V265.92M324.85 261.90V265.86M326.67 261.74V265.80M328.50 261.59V265.74M330.32 261.43V265.68M332.14 261.27V265.62M333.97 261.10V265.55M335.79 260.94V265.49M337.62 260.78V265.43M339.44 260.62V265.36M341.26 260.46V265.30M343.09 260.30V265.23M344.91 260.13V265.16M346.74 259.96V265.09M348.56 259.78V265.01M350.38 259.58V264.94M352.21 259.38V264.86M354.03 259.16V264.78M355.86 258.93V264.70M357.68 258.68V264.61M359.50 258.41V264.52M361.33 258.12V264.43M363.15 257.80V264.33M364.98 257.47V264.23M366.80 257.12V264.12M368.62 256.74V264.01M370.45 256.35V263.90M372.27 255.94V263.79M374.10 255.51V263.67M375.92 255.03V263.56M377.74 254.48V263.43M379.57 253.87V263.31M381.39 253.24V263.19M383.22 252.60V263.07M385.04 252.00V262.96M386.86 251.43V262.85M388.69 250.89V262.73M390.51 250.35V262.62M392.34 249.81V262.50M394.16 249.25V262.37M395.98 248.65V262.23M397.81 248.01V262.08M399.63 247.36V261.91M401.46 246.72V261.73M403.28 246.03V261.52M405.10 245.24V261.30M406.93 244.28V261.05M408.75 243.09V260.73M410.58 240.99V260.31M412.40 238.31V259.79M414.22 236.00V259.18M416.05 234.03V258.48M417.87 232.16V257.71M419.70 230.21V256.85M421.52 228.02V255.77M423.34 225.44V254.43M425.17 222.61V252.82M426.99 219.73V250.96M428.82 217.15V248.87M430.64 215.07V246.51M432.46 212.62V243.32M434.29 208.87V239.30M436.11 199.21V233.81M437.94 188.63V227.22M439.76 183.47V221.31M441.58 181.07V217.39M443.41 180.79V212.54M445.23 180.64V195.35M447.06 180.54V187.31M448.88 180.43V185.13M450.70 180.40V183.07" stroke="#68b885" stroke-width="0.7" fill="none" opacity="1.0"/>
<path d="M274.40 265.68H276.80M274.40 267.52H276.80M276.22 265.54H278.62M276.22 267.46H278.62M278.05 265.41H280.45M278.05 267.40H280.45M279.87 265.27H282.27M279.87 267.34H282.27M281.70 265.14H284.10M281.70 267.28H284.10M283.52 265.00H285.92M283.52 267.21H285.92M285.34 264.87H287.74M285.34 267.15H287.74M287.17 264.73H289.57M287.17 267.09H289.57M288.99 264.60H291.39M288.99 267.03H291.39M290.82 264.47H293.22M290.82 266.97H293.22M292.64 264.33H295.04M292.64 266.91H295.04M294.46 264.19H296.86M294.46 266.85H296.86M296.29 264.06H298.69M296.29 266.79H298.69M298.11 263.92H300.51M298.11 266.73H300.51M299.94 263.78H302.34M299.94 266.67H302.34M301.76 263.64H304.16M301.76 266.61H304.16M303.58 263.50H305.98M303.58 266.54H305.98M305.41 263.36H307.81M305.41 266.48H307.81M307.23 263.21H309.63M307.23 266.42H309.63M309.06 263.07H311.46M309.06 266.36H311.46M310.88 262.93H313.28M310.88 266.29H313.28M312.70 262.78H315.10M312.70 266.23H315.10M314.53 262.64H316.93M314.53 266.17H316.93M316.35 262.49H318.75M316.35 266.10H318.75M318.18 262.35H320.58M318.18 266.04H320.58M320.00 262.20H322.40M320.00 265.98H322.40M321.82 262.05H324.22M321.82 265.92H324.22M323.65 261.90H326.05M323.65 265.86H326.05M325.47 261.74H327.87M325.47 265.80H327.87M327.30 261.59H329.70M327.30 265.74H329.70M329.12 261.43H331.52M329.12 265.68H331.52M330.94 261.27H333.34M330.94 265.62H333.34M332.77 261.10H335.17M332.77 265.55H335.17M334.59 260.94H336.99M334.59 265.49H336.99M336.42 260.78H338.82M336.42 265.43H338.82M338.24 260.62H340.64M338.24 265.36H340.64M340.06 260.46H342.46M340.06 265.30H342.46M341.89 260.30H344.29M341.89 265.23H344.29M343.71 260.13H346.11M343.71 265.16H346.11M345.54 259.96H347.94M345.54 265.09H347.94M347.36 259.78H349.76M347.36 265.01H349.76M349.18 259.58H351.58M349.18 264.94H351.58M351.01 259.38H353.41M351.01 264.86H353.41M352.83 259.16H355.23M352.83 264.78H355.23M354.66 258.93H357.06M354.66 264.70H357.06M356.48 258.68H358.88M356.48 264.61H358.88M358.30 258.41H360.70M358.30 264.52H360.70M360.13 258.12H362.53M360.13 264.43H362.53M361.95 257.80H364.35M361.95 264.33H364.35M363.78 257.47H366.18M363.78 264.23H366.18M365.60 257.12H368.00M365.60 264.12H368.00M367.42 256.74H369.82M367.42 264.01H369.82M369.25 256.35H371.65M369.25 263.90H371.65M371.07 255.94H373.47M371.07 263.79H373.47M372.90 255.51H375.30M372.90 263.67H375.30M374.72 255.03H377.12M374.72 263.56H377.12M376.54 254.48H378.94M376.54 263.43H378.94M378.37 253.87H380.77M378.37 263.31H380.77M380.19 253.24H382.59M380.19 263.19H382.59M382.02 252.60H384.42M382.02 263.07H384.42M383.84 252.00H386.24M383.84 262.96H386.24M385.66 251.43H388.06M385.66 262.85H388.06M387.49 250.89H389.89M387.49 262.73H389.89M389.31 250.35H391.71M389.31 262.62H391.71M391.14 249.81H393.54M391.14 262.50H393.54M392.96 249.25H395.36M392.96 262.37H395.36M394.78 248.65H397.18M394.78 262.23H397.18M396.61 248.01H399.01M396.61 262.08H399.01M398.43 247.36H400.83M398.43 261.91H400.83M400.26 246.72H402.66M400.26 261.73H402.66M402.08 246.03H404.48M402.08 261.52H404.48M403.90 245.24H406.30M403.90 261.30H406.30M405.73 244.28H408.13M405.73 261.05H408.13M407.55 243.09H409.95M407.55 260.73H409.95M409.38 240.99H411.78M409.38 260.31H411.78M411.20 238.31H413.60M411.20 259.79H413.60M413.02 236.00H415.42M413.02 259.18H415.42M414.85 234.03H417.25M414.85 258.48H417.25M416.67 232.16H419.07M416.67 257.71H419.07M418.50 230.21H420.90M418.50 256.85H420.90M420.32 228.02H422.72M420.32 255.77H422.72M422.14 225.44H424.54M422.14 254.43H424.54M423.97 222.61H426.37M423.97 252.82H426.37M425.79 219.73H428.19M425.79 250.96H428.19M427.62 217.15H430.02M427.62 248.87H430.02M429.44 215.07H431.84M429.44 246.51H431.84M431.26 212.62H433.66M431.26 243.32H433.66M433.09 208.87H435.49M433.09 239.30H435.49M434.91 199.21H437.31M434.91 233.81H437.31M436.74 188.63H439.14M436.74 227.22H439.14M438.56 183.47H440.96M438.56 221.31H440.96M440.38 181.07H442.78M440.38 217.39H442.78M442.21 180.79H444.61M442.21 212.54H444.61M444.03 180.64H446.43M444.03 195.35H446.43M445.86 180.54H448.26M445.86 187.31H448.26M447.68 180.43H450.08M447.68 185.13H450.08M449.50 180.40H451.90M449.50 183.07H451.90" stroke="#68b885" stroke-width="0.7" fill="none" opacity="1.0"/>
<polyline points="275.60,266.29 277.82,266.24 280.03,266.18 282.25,266.13 284.47,266.08 286.68,266.03 288.90,265.98 291.12,265.93 293.33,265.88 295.55,265.83 297.77,265.78 299.98,265.73 302.20,265.67 304.41,265.61 306.63,265.54 308.85,265.48 311.06,265.41 313.28,265.33 315.50,265.25 317.71,265.16 319.93,265.07 322.15,264.98 324.36,264.88 326.58,264.77 328.80,264.66 331.01,264.55 333.23,264.43 335.45,264.31 337.66,264.18 339.88,264.05 342.10,263.91 344.31,263.77 346.53,263.63 348.74,263.48 350.96,263.33 353.18,263.17 355.39,263.01 357.61,262.85 359.83,262.68 362.04,262.51 364.26,262.32 366.48,262.13 368.69,261.93 370.91,261.71 373.13,261.48 375.34,261.24 377.56,260.98 379.78,260.70 381.99,260.41 384.21,260.10 386.43,259.75 388.64,259.34 390.86,258.87 393.07,258.34 395.29,257.75 397.51,257.12 399.72,256.41 401.94,255.58 404.16,254.64 406.37,253.60 408.59,252.48 410.81,251.28 413.02,250.00 415.24,248.56 417.46,246.92 419.67,245.03 421.89,242.78 424.11,239.66 426.32,235.81 428.54,231.54 430.76,226.60 432.97,220.92 435.19,214.35 437.40,206.26 439.62,198.53 441.84,191.33 444.05,187.56 446.27,185.30 448.49,183.83 450.70,182.76" stroke="#2a8f4c" stroke-width="0.9" fill="none"/>
<line x1="450.70" y1="182.49" x2="460.74" y2="182.49" stroke="#2a8f4c" stroke-width="1"/>
<path d="M275.60 264.21V268.19M277.42 264.19V268.18M279.25 264.18V268.16M281.07 264.17V268.14M282.90 264.15V268.12M284.72 264.14V268.11M286.54 264.13V268.09M288.37 264.11V268.07M290.19 264.10V268.06M292.02 264.09V268.04M293.84 264.07V268.02M295.66 264.06V268.00M297.49 264.05V267.99M299.31 264.03V267.97M301.14 264.02V267.95M302.96 264.01V267.94M304.78 263.99V267.92M306.61 263.98V267.90M308.43 263.97V267.88M310.26 263.95V267.87M312.08 263.94V267.85M313.90 263.93V267.83M315.73 263.91V267.81M317.55 263.90V267.80M319.38 263.88V267.78M321.20 263.87V267.76M323.02 263.86V267.75M324.85 263.84V267.73M326.67 263.83V267.71M328.50 263.82V267.69M330.32 263.80V267.68M332.14 263.79V267.66M333.97 263.78V267.64M335.79 263.76V267.63M337.62 263.75V267.61M339.44 263.74V267.59M341.26 263.72V267.57M343.09 263.71V267.56M344.91 263.70V267.54M346.74 263.68V267.52M348.56 263.67V267.51M350.38 263.66V267.49M352.21 263.64V267.47M354.03 263.63V267.45M355.86 263.62V267.44M357.68 263.60V267.42M359.50 263.59V267.40M361.33 263.58V267.38M363.15 263.56V267.37M364.98 263.55V267.35M366.80 263.54V267.33M368.62 263.52V267.32M370.45 263.51V267.30M372.27 263.50V267.28M374.10 263.48V267.26M375.92 263.47V267.25M377.74 263.37V267.23M379.57 263.27V267.21M381.39 263.18V267.13M383.22 263.08V267.04M385.04 262.98V266.95M386.86 262.88V266.87M388.69 262.78V266.78M390.51 262.69V266.69M392.34 262.59V266.61M394.16 262.49V266.52M395.98 262.39V266.43M397.81 262.29V266.35M399.63 262.20V266.26M401.46 262.10V266.17M403.28 262.00V266.09M405.10 261.90V266.00M406.93 261.80V265.91M408.75 261.63V265.80M410.58 261.46V265.68M412.40 261.29V265.56M414.22 261.12V265.45M416.05 260.95V265.33M417.87 260.78V265.22M419.70 260.61V265.10M421.52 260.44V264.98M423.34 260.27V264.87M425.17 260.10V264.75M426.99 259.93V264.64M428.82 259.76V264.52M430.64 259.59V264.40M432.46 259.42V264.29M434.29 259.30V264.18M436.11 259.30V264.08M437.94 259.30V263.98M439.76 259.30V263.89M441.58 259.30V263.79M443.41 259.30V263.69M445.23 259.30V263.60M447.06 259.30V263.50M448.88 259.30V263.40M450.70 259.30V263.31M452.53 259.30V263.21M454.35 259.30V263.11M456.18 259.30V263.01M458.00 259.30V262.92" stroke="#ec5a62" stroke-width="0.7" fill="none" opacity="1.0"/>
<path d="M274.40 264.21H276.80M274.40 268.19H276.80M276.22 264.19H278.62M276.22 268.18H278.62M278.05 264.18H280.45M278.05 268.16H280.45M279.87 264.17H282.27M279.87 268.14H282.27M281.70 264.15H284.10M281.70 268.12H284.10M283.52 264.14H285.92M283.52 268.11H285.92M285.34 264.13H287.74M285.34 268.09H287.74M287.17 264.11H289.57M287.17 268.07H289.57M288.99 264.10H291.39M288.99 268.06H291.39M290.82 264.09H293.22M290.82 268.04H293.22M292.64 264.07H295.04M292.64 268.02H295.04M294.46 264.06H296.86M294.46 268.00H296.86M296.29 264.05H298.69M296.29 267.99H298.69M298.11 264.03H300.51M298.11 267.97H300.51M299.94 264.02H302.34M299.94 267.95H302.34M301.76 264.01H304.16M301.76 267.94H304.16M303.58 263.99H305.98M303.58 267.92H305.98M305.41 263.98H307.81M305.41 267.90H307.81M307.23 263.97H309.63M307.23 267.88H309.63M309.06 263.95H311.46M309.06 267.87H311.46M310.88 263.94H313.28M310.88 267.85H313.28M312.70 263.93H315.10M312.70 267.83H315.10M314.53 263.91H316.93M314.53 267.81H316.93M316.35 263.90H318.75M316.35 267.80H318.75M318.18 263.88H320.58M318.18 267.78H320.58M320.00 263.87H322.40M320.00 267.76H322.40M321.82 263.86H324.22M321.82 267.75H324.22M323.65 263.84H326.05M323.65 267.73H326.05M325.47 263.83H327.87M325.47 267.71H327.87M327.30 263.82H329.70M327.30 267.69H329.70M329.12 263.80H331.52M329.12 267.68H331.52M330.94 263.79H333.34M330.94 267.66H333.34M332.77 263.78H335.17M332.77 267.64H335.17M334.59 263.76H336.99M334.59 267.63H336.99M336.42 263.75H338.82M336.42 267.61H338.82M338.24 263.74H340.64M338.24 267.59H340.64M340.06 263.72H342.46M340.06 267.57H342.46M341.89 263.71H344.29M341.89 267.56H344.29M343.71 263.70H346.11M343.71 267.54H346.11M345.54 263.68H347.94M345.54 267.52H347.94M347.36 263.67H349.76M347.36 267.51H349.76M349.18 263.66H351.58M349.18 267.49H351.58M351.01 263.64H353.41M351.01 267.47H353.41M352.83 263.63H355.23M352.83 267.45H355.23M354.66 263.62H357.06M354.66 267.44H357.06M356.48 263.60H358.88M356.48 267.42H358.88M358.30 263.59H360.70M358.30 267.40H360.70M360.13 263.58H362.53M360.13 267.38H362.53M361.95 263.56H364.35M361.95 267.37H364.35M363.78 263.55H366.18M363.78 267.35H366.18M365.60 263.54H368.00M365.60 267.33H368.00M367.42 263.52H369.82M367.42 267.32H369.82M369.25 263.51H371.65M369.25 267.30H371.65M371.07 263.50H373.47M371.07 267.28H373.47M372.90 263.48H375.30M372.90 267.26H375.30M374.72 263.47H377.12M374.72 267.25H377.12M376.54 263.37H378.94M376.54 267.23H378.94M378.37 263.27H380.77M378.37 267.21H380.77M380.19 263.18H382.59M380.19 267.13H382.59M382.02 263.08H384.42M382.02 267.04H384.42M383.84 262.98H386.24M383.84 266.95H386.24M385.66 262.88H388.06M385.66 266.87H388.06M387.49 262.78H389.89M387.49 266.78H389.89M389.31 262.69H391.71M389.31 266.69H391.71M391.14 262.59H393.54M391.14 266.61H393.54M392.96 262.49H395.36M392.96 266.52H395.36M394.78 262.39H397.18M394.78 266.43H397.18M396.61 262.29H399.01M396.61 266.35H399.01M398.43 262.20H400.83M398.43 266.26H400.83M400.26 262.10H402.66M400.26 266.17H402.66M402.08 262.00H404.48M402.08 266.09H404.48M403.90 261.90H406.30M403.90 266.00H406.30M405.73 261.80H408.13M405.73 265.91H408.13M407.55 261.63H409.95M407.55 265.80H409.95M409.38 261.46H411.78M409.38 265.68H411.78M411.20 261.29H413.60M411.20 265.56H413.60M413.02 261.12H415.42M413.02 265.45H415.42M414.85 260.95H417.25M414.85 265.33H417.25M416.67 260.78H419.07M416.67 265.22H419.07M418.50 260.61H420.90M418.50 265.10H420.90M420.32 260.44H422.72M420.32 264.98H422.72M422.14 260.27H424.54M422.14 264.87H424.54M423.97 260.10H426.37M423.97 264.75H426.37M425.79 259.93H428.19M425.79 264.64H428.19M427.62 259.76H430.02M427.62 264.52H430.02M429.44 259.59H431.84M429.44 264.40H431.84M431.26 259.42H433.66M431.26 264.29H433.66M433.09 259.30H435.49M433.09 264.18H435.49M434.91 259.30H437.31M434.91 264.08H437.31M436.74 259.30H439.14M436.74 263.98H439.14M438.56 259.30H440.96M438.56 263.89H440.96M440.38 259.30H442.78M440.38 263.79H442.78M442.21 259.30H444.61M442.21 263.69H444.61M444.03 259.30H446.43M444.03 263.60H446.43M445.86 259.30H448.26M445.86 263.50H448.26M447.68 259.30H450.08M447.68 263.40H450.08M449.50 259.30H451.90M449.50 263.31H451.90M451.33 259.30H453.73M451.33 263.21H453.73M453.15 259.30H455.55M453.15 263.11H455.55M454.98 259.30H457.38M454.98 263.01H457.38M456.80 259.30H459.20M456.80 262.92H459.20" stroke="#ec5a62" stroke-width="0.7" fill="none" opacity="1.0"/>
<polyline points="275.60,266.29 277.91,266.27 280.22,266.25 282.53,266.23 284.84,266.21 287.14,266.19 289.45,266.16 291.76,266.14 294.07,266.12 296.38,266.10 298.69,266.08 301.00,266.06 303.31,266.04 305.62,266.02 307.92,266.00 310.23,265.97 312.54,265.95 314.85,265.93 317.16,265.91 319.47,265.89 321.78,265.87 324.09,265.85 326.39,265.83 328.70,265.80 331.01,265.78 333.32,265.76 335.63,265.74 337.94,265.72 340.25,265.70 342.56,265.68 344.87,265.66 347.17,265.64 349.48,265.61 351.79,265.59 354.10,265.57 356.41,265.55 358.72,265.53 361.03,265.51 363.34,265.49 365.65,265.47 367.95,265.44 370.26,265.42 372.57,265.40 374.88,265.38 377.19,265.31 379.50,265.19 381.81,265.08 384.12,264.97 386.43,264.85 388.73,264.74 391.04,264.62 393.35,264.51 395.66,264.40 397.97,264.28 400.28,264.17 402.59,264.05 404.90,263.94 407.21,263.82 409.51,263.64 411.82,263.45 414.13,263.27 416.44,263.09 418.75,262.91 421.06,262.73 423.37,262.55 425.68,262.37 427.98,262.19 430.29,262.00 432.60,261.82 434.91,261.67 437.22,261.61 439.53,261.56 441.84,261.50 444.15,261.44 446.46,261.38 448.76,261.32 451.07,261.26 453.38,261.20 455.69,261.14 458.00,261.08" stroke="#e03a44" stroke-width="0.9" fill="none"/>
<path d="M43.80 426.00V427.20M46.09 425.97V427.17M48.38 425.94V427.14M50.66 425.92V427.11M52.95 425.89V427.09M55.24 425.87V427.06M57.53 425.84V427.03M59.82 425.82V427.00M62.10 425.80V426.97M64.39 425.78V426.95M66.68 425.75V426.92M68.97 425.73V426.89M71.26 425.71V426.86M73.54 425.69V426.83M75.83 425.66V426.81M78.12 425.64V426.78M80.41 425.62V426.75M82.70 425.59V426.72M84.98 425.56V426.69M87.27 425.54V426.67M89.56 425.51V426.64M91.85 425.48V426.61M94.14 425.45V426.58M96.42 425.42V426.55M98.71 425.38V426.52M101.00 425.35V426.49M103.29 425.31V426.46M105.58 425.27V426.42M107.86 425.23V426.39M110.15 425.18V426.36M112.44 425.14V426.33M114.73 425.09V426.29M117.02 425.03V426.26M119.30 424.97V426.23M121.59 424.89V426.20M123.88 424.81V426.17M126.17 424.71V426.13M128.46 424.61V426.10M130.74 424.50V426.07M133.03 424.38V426.03M135.32 424.26V426.00M137.61 424.12V425.96M139.90 423.98V425.92M142.18 423.83V425.87M144.47 423.67V425.82M146.76 423.50V425.77M149.05 423.33V425.71M151.34 423.13V425.64M153.62 422.90V425.57M155.91 422.64V425.48M158.20 422.34V425.39M160.49 422.01V425.28M162.78 421.64V425.15M165.06 421.25V425.02M167.35 420.83V424.87M169.64 420.29V424.71M171.93 419.63V424.53M174.22 418.93V424.34M176.50 418.28V424.13M178.79 417.75V423.86M181.08 417.31V423.51M183.37 416.89V423.10M185.66 416.40V422.63M187.94 415.77V422.11M190.23 415.01V421.54M192.52 414.09V420.94M194.81 413.01V420.30M197.10 411.73V419.56M199.38 409.81V418.70M201.67 405.17V417.72M203.96 399.76V416.59M206.25 395.15V415.32M208.54 387.88V414.00M210.82 377.86V411.85M213.11 366.05V403.68M215.40 340.72V380.52M217.69 339.24V343.37" stroke="#68b885" stroke-width="0.7" fill="none" opacity="1.0"/>
<path d="M42.60 426.00H45.00M42.60 427.20H45.00M44.89 425.97H47.29M44.89 427.17H47.29M47.18 425.94H49.58M47.18 427.14H49.58M49.46 425.92H51.86M49.46 427.11H51.86M51.75 425.89H54.15M51.75 427.09H54.15M54.04 425.87H56.44M54.04 427.06H56.44M56.33 425.84H58.73M56.33 427.03H58.73M58.62 425.82H61.02M58.62 427.00H61.02M60.90 425.80H63.30M60.90 426.97H63.30M63.19 425.78H65.59M63.19 426.95H65.59M65.48 425.75H67.88M65.48 426.92H67.88M67.77 425.73H70.17M67.77 426.89H70.17M70.06 425.71H72.46M70.06 426.86H72.46M72.34 425.69H74.74M72.34 426.83H74.74M74.63 425.66H77.03M74.63 426.81H77.03M76.92 425.64H79.32M76.92 426.78H79.32M79.21 425.62H81.61M79.21 426.75H81.61M81.50 425.59H83.90M81.50 426.72H83.90M83.78 425.56H86.18M83.78 426.69H86.18M86.07 425.54H88.47M86.07 426.67H88.47M88.36 425.51H90.76M88.36 426.64H90.76M90.65 425.48H93.05M90.65 426.61H93.05M92.94 425.45H95.34M92.94 426.58H95.34M95.22 425.42H97.62M95.22 426.55H97.62M97.51 425.38H99.91M97.51 426.52H99.91M99.80 425.35H102.20M99.80 426.49H102.20M102.09 425.31H104.49M102.09 426.46H104.49M104.38 425.27H106.78M104.38 426.42H106.78M106.66 425.23H109.06M106.66 426.39H109.06M108.95 425.18H111.35M108.95 426.36H111.35M111.24 425.14H113.64M111.24 426.33H113.64M113.53 425.09H115.93M113.53 426.29H115.93M115.82 425.03H118.22M115.82 426.26H118.22M118.10 424.97H120.50M118.10 426.23H120.50M120.39 424.89H122.79M120.39 426.20H122.79M122.68 424.81H125.08M122.68 426.17H125.08M124.97 424.71H127.37M124.97 426.13H127.37M127.26 424.61H129.66M127.26 426.10H129.66M129.54 424.50H131.94M129.54 426.07H131.94M131.83 424.38H134.23M131.83 426.03H134.23M134.12 424.26H136.52M134.12 426.00H136.52M136.41 424.12H138.81M136.41 425.96H138.81M138.70 423.98H141.10M138.70 425.92H141.10M140.98 423.83H143.38M140.98 425.87H143.38M143.27 423.67H145.67M143.27 425.82H145.67M145.56 423.50H147.96M145.56 425.77H147.96M147.85 423.33H150.25M147.85 425.71H150.25M150.14 423.13H152.54M150.14 425.64H152.54M152.42 422.90H154.82M152.42 425.57H154.82M154.71 422.64H157.11M154.71 425.48H157.11M157.00 422.34H159.40M157.00 425.39H159.40M159.29 422.01H161.69M159.29 425.28H161.69M161.58 421.64H163.98M161.58 425.15H163.98M163.86 421.25H166.26M163.86 425.02H166.26M166.15 420.83H168.55M166.15 424.87H168.55M168.44 420.29H170.84M168.44 424.71H170.84M170.73 419.63H173.13M170.73 424.53H173.13M173.02 418.93H175.42M173.02 424.34H175.42M175.30 418.28H177.70M175.30 424.13H177.70M177.59 417.75H179.99M177.59 423.86H179.99M179.88 417.31H182.28M179.88 423.51H182.28M182.17 416.89H184.57M182.17 423.10H184.57M184.46 416.40H186.86M184.46 422.63H186.86M186.74 415.77H189.14M186.74 422.11H189.14M189.03 415.01H191.43M189.03 421.54H191.43M191.32 414.09H193.72M191.32 420.94H193.72M193.61 413.01H196.01M193.61 420.30H196.01M195.90 411.73H198.30M195.90 419.56H198.30M198.18 409.81H200.58M198.18 418.70H200.58M200.47 405.17H202.87M200.47 417.72H202.87M202.76 399.76H205.16M202.76 416.59H205.16M205.05 395.15H207.45M205.05 415.32H207.45M207.34 387.88H209.74M207.34 414.00H209.74M209.62 377.86H212.02M209.62 411.85H212.02M211.91 366.05H214.31M211.91 403.68H214.31M214.20 340.72H216.60M214.20 380.52H216.60M216.49 339.24H218.89M216.49 343.37H218.89" stroke="#68b885" stroke-width="0.7" fill="none" opacity="1.0"/>
<polyline points="43.80,426.60 46.01,426.57 48.21,426.54 50.42,426.52 52.62,426.49 54.83,426.47 57.03,426.44 59.24,426.42 61.44,426.39 63.65,426.37 65.86,426.34 68.06,426.32 70.27,426.29 72.47,426.27 74.68,426.24 76.88,426.22 79.09,426.19 81.29,426.17 83.50,426.14 85.71,426.11 87.91,426.09 90.12,426.06 92.32,426.03 94.53,426.00 96.73,425.97 98.94,425.94 101.14,425.91 103.35,425.88 105.56,425.84 107.76,425.81 109.97,425.77 112.17,425.74 114.38,425.70 116.58,425.66 118.79,425.62 120.99,425.58 123.20,425.54 125.41,425.50 127.61,425.46 129.82,425.41 132.02,425.36 134.23,425.31 136.43,425.25 138.64,425.19 140.85,425.12 143.05,425.05 145.26,424.97 147.46,424.88 149.67,424.79 151.87,424.66 154.08,424.50 156.28,424.29 158.49,424.06 160.70,423.81 162.90,423.53 165.11,423.25 167.31,422.96 169.52,422.65 171.72,422.31 173.93,421.95 176.13,421.55 178.34,421.12 180.55,420.65 182.75,420.15 184.96,419.61 187.16,419.04 189.37,418.41 191.57,417.70 193.78,416.89 195.98,415.96 198.19,414.88 200.40,413.52 202.60,411.58 204.81,409.16 207.01,406.48 209.22,403.61 211.42,398.72 213.63,380.91 215.83,344.71 218.04,340.80" stroke="#3a9a5a" stroke-width="0.8" fill="none"/>
<line x1="217.34" y1="341.10" x2="221.91" y2="341.10" stroke="#2a8f4c" stroke-width="0.9" opacity="0.8"/>
<path d="M43.80 424.50V426.12M45.56 424.50V426.12M47.32 424.49V426.12M49.08 424.49V426.11M50.84 424.49V426.11M52.60 424.48V426.11M54.36 424.48V426.11M56.12 424.48V426.11M57.88 424.47V426.10M59.64 424.47V426.10M61.40 424.47V426.10M63.16 424.47V426.10M64.92 424.46V426.10M66.68 424.46V426.09M68.44 424.46V426.09M70.20 424.46V426.09M71.96 424.45V426.09M73.72 424.45V426.09M75.48 424.45V426.09M77.24 424.44V426.08M79.00 424.44V426.08M80.76 424.44V426.08M82.52 424.44V426.08M84.28 424.43V426.08M86.04 424.43V426.08M87.80 424.43V426.07M89.56 424.43V426.07M91.32 424.42V426.07M93.08 424.42V426.07M94.84 424.42V426.07M96.60 424.41V426.06M98.36 424.41V426.06M100.12 424.41V426.06M101.88 424.40V426.06M103.64 424.40V426.05M105.40 424.40V426.05M107.16 424.39V426.05M108.92 424.39V426.05M110.68 424.38V426.04M112.44 424.38V426.04M114.20 424.37V426.04M115.96 424.37V426.03M117.72 424.37V426.03M119.48 424.36V426.03M121.24 424.35V426.02M123.00 424.35V426.02M124.76 424.34V426.02M126.52 424.34V426.01M128.28 424.33V426.01M130.04 424.33V426.00M131.80 424.32V426.00M133.56 424.31V425.99M135.32 424.31V425.99M137.08 424.30V425.98M138.84 424.29V425.97M140.60 424.28V425.97M142.36 424.27V425.96M144.12 424.26V425.94M145.88 424.25V425.93M147.64 424.23V425.92M149.40 424.22V425.91M151.16 424.20V425.89M152.92 424.19V425.87M154.68 424.17V425.86M156.44 424.16V425.84M158.20 424.14V425.82M159.96 424.12V425.80M161.72 424.10V425.78M163.48 424.08V425.76M165.24 424.05V425.73M167.00 424.03V425.71M168.76 424.00V425.68M170.52 423.98V425.66M172.28 423.95V425.63M174.04 423.92V425.60M175.80 423.89V425.57M177.56 423.86V425.54M179.32 423.83V425.50M181.08 423.79V425.47M182.84 423.76V425.44M184.60 423.72V425.40M186.36 423.67V425.36M188.12 423.61V425.30M189.88 423.53V425.22M191.64 423.44V425.14M193.40 423.34V425.04M195.16 423.23V424.94M196.92 423.11V424.84M198.68 422.98V424.73M200.44 422.84V424.61M202.20 422.70V424.50M203.96 422.54V424.38M205.72 422.34V424.25M207.48 422.12V424.11M209.24 421.88V423.95M211.00 421.62V423.80M212.76 421.35V423.64M214.52 421.08V423.47M216.28 420.81V423.31M218.04 420.55V423.15M219.80 420.30V423.00" stroke="#e83c44" stroke-width="0.7" fill="none" opacity="1.0"/>
<path d="M43.00 424.50H44.60M43.00 426.12H44.60M44.76 424.50H46.36M44.76 426.12H46.36M46.52 424.49H48.12M46.52 426.12H48.12M48.28 424.49H49.88M48.28 426.11H49.88M50.04 424.49H51.64M50.04 426.11H51.64M51.80 424.48H53.40M51.80 426.11H53.40M53.56 424.48H55.16M53.56 426.11H55.16M55.32 424.48H56.92M55.32 426.11H56.92M57.08 424.47H58.68M57.08 426.10H58.68M58.84 424.47H60.44M58.84 426.10H60.44M60.60 424.47H62.20M60.60 426.10H62.20M62.36 424.47H63.96M62.36 426.10H63.96M64.12 424.46H65.72M64.12 426.10H65.72M65.88 424.46H67.48M65.88 426.09H67.48M67.64 424.46H69.24M67.64 426.09H69.24M69.40 424.46H71.00M69.40 426.09H71.00M71.16 424.45H72.76M71.16 426.09H72.76M72.92 424.45H74.52M72.92 426.09H74.52M74.68 424.45H76.28M74.68 426.09H76.28M76.44 424.44H78.04M76.44 426.08H78.04M78.20 424.44H79.80M78.20 426.08H79.80M79.96 424.44H81.56M79.96 426.08H81.56M81.72 424.44H83.32M81.72 426.08H83.32M83.48 424.43H85.08M83.48 426.08H85.08M85.24 424.43H86.84M85.24 426.08H86.84M87.00 424.43H88.60M87.00 426.07H88.60M88.76 424.43H90.36M88.76 426.07H90.36M90.52 424.42H92.12M90.52 426.07H92.12M92.28 424.42H93.88M92.28 426.07H93.88M94.04 424.42H95.64M94.04 426.07H95.64M95.80 424.41H97.40M95.80 426.06H97.40M97.56 424.41H99.16M97.56 426.06H99.16M99.32 424.41H100.92M99.32 426.06H100.92M101.08 424.40H102.68M101.08 426.06H102.68M102.84 424.40H104.44M102.84 426.05H104.44M104.60 424.40H106.20M104.60 426.05H106.20M106.36 424.39H107.96M106.36 426.05H107.96M108.12 424.39H109.72M108.12 426.05H109.72M109.88 424.38H111.48M109.88 426.04H111.48M111.64 424.38H113.24M111.64 426.04H113.24M113.40 424.37H115.00M113.40 426.04H115.00M115.16 424.37H116.76M115.16 426.03H116.76M116.92 424.37H118.52M116.92 426.03H118.52M118.68 424.36H120.28M118.68 426.03H120.28M120.44 424.35H122.04M120.44 426.02H122.04M122.20 424.35H123.80M122.20 426.02H123.80M123.96 424.34H125.56M123.96 426.02H125.56M125.72 424.34H127.32M125.72 426.01H127.32M127.48 424.33H129.08M127.48 426.01H129.08M129.24 424.33H130.84M129.24 426.00H130.84M131.00 424.32H132.60M131.00 426.00H132.60M132.76 424.31H134.36M132.76 425.99H134.36M134.52 424.31H136.12M134.52 425.99H136.12M136.28 424.30H137.88M136.28 425.98H137.88M138.04 424.29H139.64M138.04 425.97H139.64M139.80 424.28H141.40M139.80 425.97H141.40M141.56 424.27H143.16M141.56 425.96H143.16M143.32 424.26H144.92M143.32 425.94H144.92M145.08 424.25H146.68M145.08 425.93H146.68M146.84 424.23H148.44M146.84 425.92H148.44M148.60 424.22H150.20M148.60 425.91H150.20M150.36 424.20H151.96M150.36 425.89H151.96M152.12 424.19H153.72M152.12 425.87H153.72M153.88 424.17H155.48M153.88 425.86H155.48M155.64 424.16H157.24M155.64 425.84H157.24M157.40 424.14H159.00M157.40 425.82H159.00M159.16 424.12H160.76M159.16 425.80H160.76M160.92 424.10H162.52M160.92 425.78H162.52M162.68 424.08H164.28M162.68 425.76H164.28M164.44 424.05H166.04M164.44 425.73H166.04M166.20 424.03H167.80M166.20 425.71H167.80M167.96 424.00H169.56M167.96 425.68H169.56M169.72 423.98H171.32M169.72 425.66H171.32M171.48 423.95H173.08M171.48 425.63H173.08M173.24 423.92H174.84M173.24 425.60H174.84M175.00 423.89H176.60M175.00 425.57H176.60M176.76 423.86H178.36M176.76 425.54H178.36M178.52 423.83H180.12M178.52 425.50H180.12M180.28 423.79H181.88M180.28 425.47H181.88M182.04 423.76H183.64M182.04 425.44H183.64M183.80 423.72H185.40M183.80 425.40H185.40M185.56 423.67H187.16M185.56 425.36H187.16M187.32 423.61H188.92M187.32 425.30H188.92M189.08 423.53H190.68M189.08 425.22H190.68M190.84 423.44H192.44M190.84 425.14H192.44M192.60 423.34H194.20M192.60 425.04H194.20M194.36 423.23H195.96M194.36 424.94H195.96M196.12 423.11H197.72M196.12 424.84H197.72M197.88 422.98H199.48M197.88 424.73H199.48M199.64 422.84H201.24M199.64 424.61H201.24M201.40 422.70H203.00M201.40 424.50H203.00M203.16 422.54H204.76M203.16 424.38H204.76M204.92 422.34H206.52M204.92 424.25H206.52M206.68 422.12H208.28M206.68 424.11H208.28M208.44 421.88H210.04M208.44 423.95H210.04M210.20 421.62H211.80M210.20 423.80H211.80M211.96 421.35H213.56M211.96 423.64H213.56M213.72 421.08H215.32M213.72 423.47H215.32M215.48 420.81H217.08M215.48 423.31H217.08M217.24 420.55H218.84M217.24 423.15H218.84M219.00 420.30H220.60M219.00 423.00H220.60" stroke="#e83c44" stroke-width="0.7" fill="none" opacity="1.0"/>
<polyline points="43.80,425.28 46.03,425.28 48.26,425.27 50.48,425.27 52.71,425.26 54.94,425.26 57.17,425.26 59.39,425.25 61.62,425.25 63.85,425.24 66.08,425.24 68.31,425.24 70.53,425.23 72.76,425.23 74.99,425.23 77.22,425.22 79.45,425.22 81.67,425.22 83.90,425.21 86.13,425.21 88.36,425.21 90.58,425.20 92.81,425.20 95.04,425.20 97.27,425.19 99.50,425.19 101.72,425.18 103.95,425.18 106.18,425.17 108.41,425.17 110.64,425.16 112.86,425.16 115.09,425.15 117.32,425.15 119.55,425.14 121.77,425.13 124.00,425.13 126.23,425.12 128.46,425.11 130.69,425.10 132.91,425.10 135.14,425.09 137.37,425.08 139.60,425.06 141.83,425.05 144.05,425.04 146.28,425.02 148.51,425.00 150.74,424.99 152.96,424.97 155.19,424.94 157.42,424.92 159.65,424.90 161.88,424.87 164.10,424.84 166.33,424.81 168.56,424.78 170.79,424.75 173.02,424.71 175.24,424.68 177.47,424.64 179.70,424.60 181.93,424.55 184.15,424.51 186.38,424.46 188.61,424.38 190.84,424.29 193.07,424.18 195.29,424.05 197.52,423.91 199.75,423.77 201.98,423.62 204.21,423.44 206.43,423.23 208.66,423.00 210.89,422.74 213.12,422.47 215.34,422.20 217.57,421.93 219.80,421.68" stroke="#e0242c" stroke-width="0.9" fill="none"/>
<path d="M273.70 425.20V425.83M276.24 425.20V425.82M278.79 425.19V425.82M281.33 425.18V425.81M283.88 425.17V425.80M286.42 425.17V425.79M288.96 425.16V425.79M291.51 425.15V425.78M294.05 425.14V425.77M296.59 425.14V425.76M299.14 425.13V425.76M301.68 425.12V425.75M304.23 425.11V425.74M306.77 425.11V425.74M309.31 425.10V425.73M311.86 425.09V425.72M314.40 425.09V425.71M316.94 425.08V425.71M319.49 425.07V425.70M322.03 425.06V425.69M324.58 425.06V425.68M327.12 425.05V425.68M329.66 425.04V425.67M332.21 425.03V425.66M334.75 425.03V425.65M337.29 425.02V425.65M339.84 425.01V425.64M342.38 425.00V425.63M344.93 425.00V425.63M347.47 424.99V425.62M350.01 424.98V425.61M352.56 424.98V425.60M355.10 424.97V425.60M357.65 424.96V425.59M360.19 424.95V425.58M362.73 424.95V425.57M365.28 424.94V425.57M367.82 424.93V425.56M370.36 424.92V425.55M372.91 424.92V425.54M375.45 424.91V425.54M378.00 424.90V425.53M380.54 424.89V425.52M383.08 424.87V425.51M385.63 424.75V425.48M388.17 424.64V425.45M390.71 424.52V425.42M393.26 424.40V425.40M395.80 424.29V425.37M398.35 424.17V425.34M400.89 424.05V425.31M403.43 423.93V425.28M405.98 423.82V425.25M408.52 423.70V425.22M411.07 423.44V425.16M413.61 423.00V425.05M416.15 422.55V424.95M418.70 422.11V424.84M421.24 421.66V424.73M423.78 421.22V424.63M426.33 420.67V424.50M428.87 420.03V424.36M431.42 419.38V424.22M433.96 418.74V424.08M436.50 418.09V423.94M439.05 417.45V423.80M441.59 416.80V423.66M444.13 415.85V423.16M446.68 414.82V422.55M449.22 408.25V419.45M451.77 393.18V405.60M454.31 347.98V363.36" stroke="#68b885" stroke-width="0.7" fill="none" opacity="1.0"/>
<path d="M272.50 425.20H274.90M272.50 425.83H274.90M275.04 425.20H277.44M275.04 425.82H277.44M277.59 425.19H279.99M277.59 425.82H279.99M280.13 425.18H282.53M280.13 425.81H282.53M282.68 425.17H285.08M282.68 425.80H285.08M285.22 425.17H287.62M285.22 425.79H287.62M287.76 425.16H290.16M287.76 425.79H290.16M290.31 425.15H292.71M290.31 425.78H292.71M292.85 425.14H295.25M292.85 425.77H295.25M295.39 425.14H297.79M295.39 425.76H297.79M297.94 425.13H300.34M297.94 425.76H300.34M300.48 425.12H302.88M300.48 425.75H302.88M303.03 425.11H305.43M303.03 425.74H305.43M305.57 425.11H307.97M305.57 425.74H307.97M308.11 425.10H310.51M308.11 425.73H310.51M310.66 425.09H313.06M310.66 425.72H313.06M313.20 425.09H315.60M313.20 425.71H315.60M315.74 425.08H318.14M315.74 425.71H318.14M318.29 425.07H320.69M318.29 425.70H320.69M320.83 425.06H323.23M320.83 425.69H323.23M323.38 425.06H325.78M323.38 425.68H325.78M325.92 425.05H328.32M325.92 425.68H328.32M328.46 425.04H330.86M328.46 425.67H330.86M331.01 425.03H333.41M331.01 425.66H333.41M333.55 425.03H335.95M333.55 425.65H335.95M336.09 425.02H338.49M336.09 425.65H338.49M338.64 425.01H341.04M338.64 425.64H341.04M341.18 425.00H343.58M341.18 425.63H343.58M343.73 425.00H346.13M343.73 425.63H346.13M346.27 424.99H348.67M346.27 425.62H348.67M348.81 424.98H351.21M348.81 425.61H351.21M351.36 424.98H353.76M351.36 425.60H353.76M353.90 424.97H356.30M353.90 425.60H356.30M356.45 424.96H358.85M356.45 425.59H358.85M358.99 424.95H361.39M358.99 425.58H361.39M361.53 424.95H363.93M361.53 425.57H363.93M364.08 424.94H366.48M364.08 425.57H366.48M366.62 424.93H369.02M366.62 425.56H369.02M369.16 424.92H371.56M369.16 425.55H371.56M371.71 424.92H374.11M371.71 425.54H374.11M374.25 424.91H376.65M374.25 425.54H376.65M376.80 424.90H379.20M376.80 425.53H379.20M379.34 424.89H381.74M379.34 425.52H381.74M381.88 424.87H384.28M381.88 425.51H384.28M384.43 424.75H386.83M384.43 425.48H386.83M386.97 424.64H389.37M386.97 425.45H389.37M389.51 424.52H391.91M389.51 425.42H391.91M392.06 424.40H394.46M392.06 425.40H394.46M394.60 424.29H397.00M394.60 425.37H397.00M397.15 424.17H399.55M397.15 425.34H399.55M399.69 424.05H402.09M399.69 425.31H402.09M402.23 423.93H404.63M402.23 425.28H404.63M404.78 423.82H407.18M404.78 425.25H407.18M407.32 423.70H409.72M407.32 425.22H409.72M409.87 423.44H412.27M409.87 425.16H412.27M412.41 423.00H414.81M412.41 425.05H414.81M414.95 422.55H417.35M414.95 424.95H417.35M417.50 422.11H419.90M417.50 424.84H419.90M420.04 421.66H422.44M420.04 424.73H422.44M422.58 421.22H424.98M422.58 424.63H424.98M425.13 420.67H427.53M425.13 424.50H427.53M427.67 420.03H430.07M427.67 424.36H430.07M430.22 419.38H432.62M430.22 424.22H432.62M432.76 418.74H435.16M432.76 424.08H435.16M435.30 418.09H437.70M435.30 423.94H437.70M437.85 417.45H440.25M437.85 423.80H440.25M440.39 416.80H442.79M440.39 423.66H442.79M442.93 415.85H445.33M442.93 423.16H445.33M445.48 414.82H447.88M445.48 422.55H447.88M448.02 408.25H450.42M448.02 419.45H450.42M450.57 393.18H452.97M450.57 405.60H452.97M453.11 347.98H455.51M453.11 363.36H455.51" stroke="#68b885" stroke-width="0.7" fill="none" opacity="1.0"/>
<polyline points="273.70,425.52 276.00,425.51 278.30,425.51 280.60,425.50 282.90,425.50 285.20,425.50 287.50,425.49 289.80,425.49 292.10,425.48 294.40,425.48 296.70,425.48 299.00,425.47 301.30,425.47 303.60,425.46 305.90,425.46 308.20,425.46 310.50,425.45 312.80,425.45 315.10,425.44 317.40,425.44 319.70,425.44 322.00,425.43 324.30,425.43 326.60,425.43 328.90,425.42 331.20,425.42 333.50,425.41 335.80,425.41 338.10,425.41 340.40,425.40 342.70,425.40 345.00,425.39 347.30,425.39 349.60,425.39 351.90,425.38 354.20,425.38 356.50,425.37 358.80,425.37 361.10,425.37 363.40,425.36 365.70,425.36 368.00,425.35 370.30,425.35 372.60,425.35 374.90,425.34 377.20,425.34 379.50,425.33 381.80,425.33 384.10,425.29 386.40,425.23 388.70,425.16 391.00,425.10 393.30,425.04 395.60,424.97 397.90,424.91 400.20,424.84 402.50,424.78 404.80,424.72 407.10,424.65 409.40,424.59 411.70,424.47 414.00,424.32 416.30,424.18 418.60,424.04 420.90,423.89 423.20,423.75 425.50,423.57 427.80,423.23 430.10,422.89 432.40,422.55 434.70,422.21 437.00,421.88 439.30,421.54 441.60,421.20 443.90,420.70 446.20,420.15 448.50,418.60 450.80,413.36 453.10,374.80 455.40,347.66" stroke="#3a9a5a" stroke-width="0.8" fill="none"/>
<path d="M451.40 375.92H455.40" stroke="#5aaa75" stroke-width="0.9"/>
<path d="M450.67 395.38H454.67" stroke="#5aaa75" stroke-width="0.9"/>
<path d="M449.38 406.99H453.78" stroke="#5aaa75" stroke-width="0.9"/>
<path d="M449.04 418.86H453.04" stroke="#5aaa75" stroke-width="0.9"/>
<rect x="453.40" y="335.73" width="4" height="23.86" fill="#cfe6d6"/>
<path d="M455.40 335.73V359.59M453.20 335.73H457.60M453.20 359.59H457.60" stroke="#5aaa75" stroke-width="1" fill="none"/>
<path d="M273.70 424.26V425.70M275.52 424.26V425.70M277.33 424.26V425.70M279.15 424.26V425.70M280.97 424.25V425.70M282.78 424.25V425.69M284.60 424.25V425.69M286.42 424.25V425.69M288.24 424.25V425.69M290.05 424.25V425.69M291.87 424.25V425.68M293.69 424.25V425.68M295.50 424.25V425.68M297.32 424.24V425.68M299.14 424.24V425.68M300.95 424.24V425.68M302.77 424.24V425.68M304.59 424.24V425.67M306.41 424.24V425.67M308.22 424.24V425.67M310.04 424.24V425.67M311.86 424.24V425.67M313.67 424.24V425.67M315.49 424.24V425.67M317.31 424.23V425.66M319.12 424.23V425.66M320.94 424.23V425.66M322.76 424.23V425.66M324.58 424.23V425.66M326.39 424.23V425.66M328.21 424.23V425.66M330.03 424.23V425.66M331.84 424.23V425.65M333.66 424.23V425.65M335.48 424.23V425.65M337.29 424.23V425.65M339.11 424.23V425.65M340.93 424.22V425.65M342.75 424.22V425.65M344.56 424.22V425.64M346.38 424.22V425.64M348.20 424.22V425.64M350.01 424.22V425.64M351.83 424.22V425.64M353.65 424.22V425.64M355.46 424.22V425.63M357.28 424.21V425.63M359.10 424.21V425.63M360.92 424.21V425.63M362.73 424.21V425.63M364.55 424.21V425.62M366.37 424.21V425.62M368.18 424.21V425.62M370.00 424.21V425.62M371.82 424.20V425.62M373.63 424.20V425.61M375.45 424.20V425.61M377.27 424.20V425.61M379.09 424.20V425.61M380.90 424.20V425.60M382.72 424.19V425.60M384.54 424.19V425.60M386.35 424.19V425.59M388.17 424.19V425.59M389.99 424.18V425.59M391.81 424.18V425.58M393.62 424.18V425.58M395.44 424.18V425.58M397.26 424.17V425.57M399.07 424.17V425.57M400.89 424.17V425.56M402.71 424.17V425.56M404.52 424.16V425.56M406.34 424.16V425.55M408.16 424.16V425.55M409.98 424.15V425.54M411.79 424.15V425.54M413.61 424.15V425.53M415.43 424.14V425.53M417.24 424.14V425.52M419.06 424.14V425.52M420.88 424.13V425.51M422.69 424.11V425.50M424.51 424.09V425.48M426.33 424.06V425.46M428.14 424.03V425.44M429.96 423.99V425.41M431.78 423.94V425.37M433.60 423.89V425.34M435.41 423.84V425.29M437.23 423.77V425.25M439.05 423.71V425.20M440.86 423.63V425.14M442.68 423.53V425.05M444.50 423.39V424.91M446.31 423.19V424.73M448.13 422.96V424.51M449.95 422.69V424.26M451.77 422.27V423.91M453.58 421.70V423.46M455.40 421.12V423.01" stroke="#e8303a" stroke-width="0.7" fill="none" opacity="1.0"/>
<path d="M272.90 424.26H274.50M272.90 425.70H274.50M274.72 424.26H276.32M274.72 425.70H276.32M276.53 424.26H278.13M276.53 425.70H278.13M278.35 424.26H279.95M278.35 425.70H279.95M280.17 424.25H281.77M280.17 425.70H281.77M281.98 424.25H283.58M281.98 425.69H283.58M283.80 424.25H285.40M283.80 425.69H285.40M285.62 424.25H287.22M285.62 425.69H287.22M287.44 424.25H289.04M287.44 425.69H289.04M289.25 424.25H290.85M289.25 425.69H290.85M291.07 424.25H292.67M291.07 425.68H292.67M292.89 424.25H294.49M292.89 425.68H294.49M294.70 424.25H296.30M294.70 425.68H296.30M296.52 424.24H298.12M296.52 425.68H298.12M298.34 424.24H299.94M298.34 425.68H299.94M300.15 424.24H301.75M300.15 425.68H301.75M301.97 424.24H303.57M301.97 425.68H303.57M303.79 424.24H305.39M303.79 425.67H305.39M305.61 424.24H307.21M305.61 425.67H307.21M307.42 424.24H309.02M307.42 425.67H309.02M309.24 424.24H310.84M309.24 425.67H310.84M311.06 424.24H312.66M311.06 425.67H312.66M312.87 424.24H314.47M312.87 425.67H314.47M314.69 424.24H316.29M314.69 425.67H316.29M316.51 424.23H318.11M316.51 425.66H318.11M318.32 424.23H319.93M318.32 425.66H319.93M320.14 424.23H321.74M320.14 425.66H321.74M321.96 424.23H323.56M321.96 425.66H323.56M323.78 424.23H325.38M323.78 425.66H325.38M325.59 424.23H327.19M325.59 425.66H327.19M327.41 424.23H329.01M327.41 425.66H329.01M329.23 424.23H330.83M329.23 425.66H330.83M331.04 424.23H332.64M331.04 425.65H332.64M332.86 424.23H334.46M332.86 425.65H334.46M334.68 424.23H336.28M334.68 425.65H336.28M336.49 424.23H338.09M336.49 425.65H338.09M338.31 424.23H339.91M338.31 425.65H339.91M340.13 424.22H341.73M340.13 425.65H341.73M341.95 424.22H343.55M341.95 425.65H343.55M343.76 424.22H345.36M343.76 425.64H345.36M345.58 424.22H347.18M345.58 425.64H347.18M347.40 424.22H349.00M347.40 425.64H349.00M349.21 424.22H350.81M349.21 425.64H350.81M351.03 424.22H352.63M351.03 425.64H352.63M352.85 424.22H354.45M352.85 425.64H354.45M354.66 424.22H356.26M354.66 425.63H356.26M356.48 424.21H358.08M356.48 425.63H358.08M358.30 424.21H359.90M358.30 425.63H359.90M360.12 424.21H361.72M360.12 425.63H361.72M361.93 424.21H363.53M361.93 425.63H363.53M363.75 424.21H365.35M363.75 425.62H365.35M365.57 424.21H367.17M365.57 425.62H367.17M367.38 424.21H368.98M367.38 425.62H368.98M369.20 424.21H370.80M369.20 425.62H370.80M371.02 424.20H372.62M371.02 425.62H372.62M372.83 424.20H374.44M372.83 425.61H374.44M374.65 424.20H376.25M374.65 425.61H376.25M376.47 424.20H378.07M376.47 425.61H378.07M378.29 424.20H379.89M378.29 425.61H379.89M380.10 424.20H381.70M380.10 425.60H381.70M381.92 424.19H383.52M381.92 425.60H383.52M383.74 424.19H385.34M383.74 425.60H385.34M385.55 424.19H387.15M385.55 425.59H387.15M387.37 424.19H388.97M387.37 425.59H388.97M389.19 424.18H390.79M389.19 425.59H390.79M391.00 424.18H392.61M391.00 425.58H392.61M392.82 424.18H394.42M392.82 425.58H394.42M394.64 424.18H396.24M394.64 425.58H396.24M396.46 424.17H398.06M396.46 425.57H398.06M398.27 424.17H399.87M398.27 425.57H399.87M400.09 424.17H401.69M400.09 425.56H401.69M401.91 424.17H403.51M401.91 425.56H403.51M403.72 424.16H405.32M403.72 425.56H405.32M405.54 424.16H407.14M405.54 425.55H407.14M407.36 424.16H408.96M407.36 425.55H408.96M409.18 424.15H410.78M409.18 425.54H410.78M410.99 424.15H412.59M410.99 425.54H412.59M412.81 424.15H414.41M412.81 425.53H414.41M414.63 424.14H416.23M414.63 425.53H416.23M416.44 424.14H418.04M416.44 425.52H418.04M418.26 424.14H419.86M418.26 425.52H419.86M420.08 424.13H421.68M420.08 425.51H421.68M421.89 424.11H423.49M421.89 425.50H423.49M423.71 424.09H425.31M423.71 425.48H425.31M425.53 424.06H427.13M425.53 425.46H427.13M427.34 424.03H428.94M427.34 425.44H428.94M429.16 423.99H430.76M429.16 425.41H430.76M430.98 423.94H432.58M430.98 425.37H432.58M432.80 423.89H434.40M432.80 425.34H434.40M434.61 423.84H436.21M434.61 425.29H436.21M436.43 423.77H438.03M436.43 425.25H438.03M438.25 423.71H439.85M438.25 425.20H439.85M440.06 423.63H441.66M440.06 425.14H441.66M441.88 423.53H443.48M441.88 425.05H443.48M443.70 423.39H445.30M443.70 424.91H445.30M445.51 423.19H447.12M445.51 424.73H447.12M447.33 422.96H448.93M447.33 424.51H448.93M449.15 422.69H450.75M449.15 424.26H450.75M450.97 422.27H452.57M450.97 423.91H452.57M452.78 421.70H454.38M452.78 423.46H454.38M454.60 421.12H456.20M454.60 423.01H456.20" stroke="#e8303a" stroke-width="0.7" fill="none" opacity="1.0"/>
<polyline points="273.70,425.01 276.00,425.01 278.30,425.01 280.60,425.01 282.90,425.01 285.20,425.01 287.50,425.00 289.80,425.00 292.10,425.00 294.40,425.00 296.70,425.00 299.00,425.00 301.30,425.00 303.60,424.99 305.90,424.99 308.20,424.99 310.50,424.99 312.80,424.99 315.10,424.99 317.40,424.99 319.70,424.99 322.00,424.99 324.30,424.99 326.60,424.98 328.90,424.98 331.20,424.98 333.50,424.98 335.80,424.98 338.10,424.98 340.40,424.98 342.70,424.98 345.00,424.98 347.30,424.97 349.60,424.97 351.90,424.97 354.20,424.97 356.50,424.97 358.80,424.97 361.10,424.97 363.40,424.96 365.70,424.96 368.00,424.96 370.30,424.96 372.60,424.96 374.90,424.95 377.20,424.95 379.50,424.95 381.80,424.95 384.10,424.94 386.40,424.94 388.70,424.94 391.00,424.94 393.30,424.93 395.60,424.93 397.90,424.93 400.20,424.92 402.50,424.92 404.80,424.92 407.10,424.91 409.40,424.91 411.70,424.90 414.00,424.90 416.30,424.89 418.60,424.89 420.90,424.88 423.20,424.86 425.50,424.83 427.80,424.79 430.10,424.74 432.40,424.68 434.70,424.61 437.00,424.53 439.30,424.45 441.60,424.35 443.90,424.20 446.20,423.99 448.50,423.71 450.80,423.35 453.10,422.74 455.40,422.06" stroke="#e0202a" stroke-width="0.9" fill="none"/>
<line x1="39.60" y1="8.60" x2="39.60" y2="114.80" stroke="#808080" stroke-width="1"/>
<line x1="39.10" y1="114.30" x2="231.50" y2="114.30" stroke="#808080" stroke-width="1"/>
<line x1="34.60" y1="113.40" x2="39.60" y2="113.40" stroke="#808080" stroke-width="1"/>
<text x='32.30' y='116.66' font-size='7.0' text-anchor='end' class='t'>0.00</text>
<line x1="34.60" y1="100.40" x2="39.60" y2="100.40" stroke="#808080" stroke-width="1"/>
<text x='32.30' y='103.66' font-size='7.0' text-anchor='end' class='t'>0.02</text>
<line x1="34.60" y1="87.40" x2="39.60" y2="87.40" stroke="#808080" stroke-width="1"/>
<text x='32.30' y='90.66' font-size='7.0' text-anchor='end' class='t'>0.04</text>
<line x1="34.60" y1="74.40" x2="39.60" y2="74.40" stroke="#808080" stroke-width="1"/>
<text x='32.30' y='77.66' font-size='7.0' text-anchor='end' class='t'>0.06</text>
<line x1="34.60" y1="61.40" x2="39.60" y2="61.40" stroke="#808080" stroke-width="1"/>
<text x='32.30' y='64.66' font-size='7.0' text-anchor='end' class='t'>0.08</text>
<line x1="34.60" y1="48.40" x2="39.60" y2="48.40" stroke="#808080" stroke-width="1"/>
<text x='32.30' y='51.66' font-size='7.0' text-anchor='end' class='t'>0.10</text>
<line x1="34.60" y1="35.40" x2="39.60" y2="35.40" stroke="#808080" stroke-width="1"/>
<text x='32.30' y='38.66' font-size='7.0' text-anchor='end' class='t'>0.12</text>
<line x1="34.60" y1="22.40" x2="39.60" y2="22.40" stroke="#808080" stroke-width="1"/>
<text x='32.30' y='25.66' font-size='7.0' text-anchor='end' class='t'>0.14</text>
<line x1="34.60" y1="9.40" x2="39.60" y2="9.40" stroke="#808080" stroke-width="1"/>
<text x='32.30' y='12.66' font-size='7.0' text-anchor='end' class='t'>0.16</text>
<line x1="40.30" y1="114.30" x2="40.30" y2="119.30" stroke="#808080" stroke-width="1"/>
<text x='40.30' y='127.82' font-size='7.0' text-anchor='middle' class='t'>0</text>
<line x1="78.44" y1="114.30" x2="78.44" y2="119.30" stroke="#808080" stroke-width="1"/>
<text x='78.44' y='127.82' font-size='7.0' text-anchor='middle' class='t'>20</text>
<line x1="116.58" y1="114.30" x2="116.58" y2="119.30" stroke="#808080" stroke-width="1"/>
<text x='116.58' y='127.82' font-size='7.0' text-anchor='middle' class='t'>40</text>
<line x1="154.72" y1="114.30" x2="154.72" y2="119.30" stroke="#808080" stroke-width="1"/>
<text x='154.72' y='127.82' font-size='7.0' text-anchor='middle' class='t'>60</text>
<line x1="192.86" y1="114.30" x2="192.86" y2="119.30" stroke="#808080" stroke-width="1"/>
<text x='192.86' y='127.82' font-size='7.0' text-anchor='middle' class='t'>80</text>
<line x1="231.00" y1="114.30" x2="231.00" y2="119.30" stroke="#808080" stroke-width="1"/>
<text x='231.00' y='127.82' font-size='7.0' text-anchor='middle' class='t'>100</text>
<text x='99.50' y='137.00' font-size='8.1' textLength='73.90' lengthAdjust='spacingAndGlyphs'>Relative humidity (%)</text>
<text class='yl' transform='translate(11.60,127.00) rotate(-90)' font-size='8.1' textLength='116.30' lengthAdjust='spacingAndGlyphs'>Surface interaction energy (J/m<tspan dy='-2.83' font-size='5.26'>2</tspan><tspan dy='2.83'>)</tspan></text>
<line x1="111.30" y1="88.40" x2="125.00" y2="88.40" stroke="#2a8f4c" stroke-width="0.9" opacity="0.7"/>
<line x1="111.30" y1="96.55" x2="125.00" y2="96.55" stroke="#e8474f" stroke-width="0.9" opacity="0.7"/>
<text x='127.80' y='90.84' font-size='8.74' textLength='55.20' lengthAdjust='spacingAndGlyphs'>Capillary adhesion</text>
<text x='127.80' y='98.34' font-size='8.74' textLength='72.00' lengthAdjust='spacingAndGlyphs'>Van der Waals adhesion</text>
<text x='138.30' y='152.80' font-size='10.5' text-anchor='middle' font-family='"Liberation Sans", sans-serif'>a</text>
<line x1="282.60" y1="22.00" x2="282.60" y2="116.50" stroke="#808080" stroke-width="1"/>
<line x1="282.10" y1="116.00" x2="467.00" y2="116.00" stroke="#808080" stroke-width="1"/>
<line x1="277.60" y1="114.80" x2="282.60" y2="114.80" stroke="#808080" stroke-width="1"/>
<text x='276.40' y='117.50' font-size='6.8' text-anchor='end' class='t'>0.00</text>
<line x1="277.60" y1="102.20" x2="282.60" y2="102.20" stroke="#808080" stroke-width="1"/>
<text x='276.40' y='104.90' font-size='6.8' text-anchor='end' class='t'>0.02</text>
<line x1="277.60" y1="89.60" x2="282.60" y2="89.60" stroke="#808080" stroke-width="1"/>
<text x='276.40' y='92.30' font-size='6.8' text-anchor='end' class='t'>0.04</text>
<line x1="277.60" y1="77.00" x2="282.60" y2="77.00" stroke="#808080" stroke-width="1"/>
<text x='276.40' y='79.70' font-size='6.8' text-anchor='end' class='t'>0.06</text>
<line x1="277.60" y1="64.40" x2="282.60" y2="64.40" stroke="#808080" stroke-width="1"/>
<text x='276.40' y='67.10' font-size='6.8' text-anchor='end' class='t'>0.08</text>
<line x1="277.60" y1="51.80" x2="282.60" y2="51.80" stroke="#808080" stroke-width="1"/>
<text x='276.40' y='54.50' font-size='6.8' text-anchor='end' class='t'>0.10</text>
<line x1="277.60" y1="39.20" x2="282.60" y2="39.20" stroke="#808080" stroke-width="1"/>
<text x='276.40' y='41.90' font-size='6.8' text-anchor='end' class='t'>0.12</text>
<line x1="277.60" y1="26.60" x2="282.60" y2="26.60" stroke="#808080" stroke-width="1"/>
<text x='276.40' y='29.30' font-size='6.8' text-anchor='end' class='t'>0.14</text>
<line x1="283.80" y1="116.00" x2="283.80" y2="121.00" stroke="#808080" stroke-width="1"/>
<text x='283.80' y='128.65' font-size='6.8' text-anchor='middle' class='t'>0</text>
<line x1="320.34" y1="116.00" x2="320.34" y2="121.00" stroke="#808080" stroke-width="1"/>
<text x='320.34' y='128.65' font-size='6.8' text-anchor='middle' class='t'>20</text>
<line x1="356.88" y1="116.00" x2="356.88" y2="121.00" stroke="#808080" stroke-width="1"/>
<text x='356.88' y='128.65' font-size='6.8' text-anchor='middle' class='t'>40</text>
<line x1="393.42" y1="116.00" x2="393.42" y2="121.00" stroke="#808080" stroke-width="1"/>
<text x='393.42' y='128.65' font-size='6.8' text-anchor='middle' class='t'>60</text>
<line x1="429.96" y1="116.00" x2="429.96" y2="121.00" stroke="#808080" stroke-width="1"/>
<text x='429.96' y='128.65' font-size='6.8' text-anchor='middle' class='t'>80</text>
<line x1="466.50" y1="116.00" x2="466.50" y2="121.00" stroke="#808080" stroke-width="1"/>
<text x='466.50' y='128.65' font-size='6.8' text-anchor='middle' class='t'>100</text>
<text x='340.40' y='137.90' font-size='8.2' textLength='72.00' lengthAdjust='spacingAndGlyphs'>Relative humidity (%)</text>
<text class='yl' transform='translate(255.60,127.40) rotate(-90)' font-size='8.2' textLength='111.50' lengthAdjust='spacingAndGlyphs'>Surface interaction energy (J/m<tspan dy='-2.87' font-size='5.33'>2</tspan><tspan dy='2.87'>)</tspan></text>
<line x1="352.00" y1="95.70" x2="365.80" y2="95.70" stroke="#2a8f4c" stroke-width="0.9" opacity="0.7"/>
<line x1="352.00" y1="103.60" x2="365.80" y2="103.60" stroke="#e8474f" stroke-width="0.9" opacity="0.7"/>
<text x='368.40' y='97.86' font-size='7.92' textLength='53.50' lengthAdjust='spacingAndGlyphs'>Capillary adhesion</text>
<text x='368.40' y='106.06' font-size='7.92' textLength='69.90' lengthAdjust='spacingAndGlyphs'>Van der Waals adhesion</text>
<text x='375.20' y='152.90' font-size='12' text-anchor='middle' font-family='"Liberation Serif", serif'>b</text>
<line x1="39.60" y1="175.30" x2="39.60" y2="274.80" stroke="#808080" stroke-width="1"/>
<line x1="39.10" y1="274.30" x2="218.80" y2="274.30" stroke="#808080" stroke-width="1"/>
<line x1="34.60" y1="273.90" x2="39.60" y2="273.90" stroke="#808080" stroke-width="1"/>
<text x='33.10' y='277.00' font-size='6.8' text-anchor='end' class='t'>0.00</text>
<line x1="34.60" y1="260.42" x2="39.60" y2="260.42" stroke="#808080" stroke-width="1"/>
<text x='33.10' y='263.52' font-size='6.8' text-anchor='end' class='t'>0.02</text>
<line x1="34.60" y1="246.94" x2="39.60" y2="246.94" stroke="#808080" stroke-width="1"/>
<text x='33.10' y='250.04' font-size='6.8' text-anchor='end' class='t'>0.04</text>
<line x1="34.60" y1="233.46" x2="39.60" y2="233.46" stroke="#808080" stroke-width="1"/>
<text x='33.10' y='236.56' font-size='6.8' text-anchor='end' class='t'>0.06</text>
<line x1="34.60" y1="219.98" x2="39.60" y2="219.98" stroke="#808080" stroke-width="1"/>
<text x='33.10' y='223.08' font-size='6.8' text-anchor='end' class='t'>0.08</text>
<line x1="34.60" y1="206.50" x2="39.60" y2="206.50" stroke="#808080" stroke-width="1"/>
<text x='33.10' y='209.60' font-size='6.8' text-anchor='end' class='t'>0.10</text>
<line x1="34.60" y1="193.02" x2="39.60" y2="193.02" stroke="#808080" stroke-width="1"/>
<text x='33.10' y='196.12' font-size='6.8' text-anchor='end' class='t'>0.12</text>
<line x1="34.60" y1="179.54" x2="39.60" y2="179.54" stroke="#808080" stroke-width="1"/>
<text x='33.10' y='182.64' font-size='6.8' text-anchor='end' class='t'>0.14</text>
<line x1="40.00" y1="274.30" x2="40.00" y2="279.30" stroke="#808080" stroke-width="1"/>
<text x='40.00' y='287.05' font-size='6.8' text-anchor='middle' class='t'>0</text>
<line x1="75.66" y1="274.30" x2="75.66" y2="279.30" stroke="#808080" stroke-width="1"/>
<text x='75.66' y='287.05' font-size='6.8' text-anchor='middle' class='t'>20</text>
<line x1="111.32" y1="274.30" x2="111.32" y2="279.30" stroke="#808080" stroke-width="1"/>
<text x='111.32' y='287.05' font-size='6.8' text-anchor='middle' class='t'>40</text>
<line x1="146.98" y1="274.30" x2="146.98" y2="279.30" stroke="#808080" stroke-width="1"/>
<text x='146.98' y='287.05' font-size='6.8' text-anchor='middle' class='t'>60</text>
<line x1="182.64" y1="274.30" x2="182.64" y2="279.30" stroke="#808080" stroke-width="1"/>
<text x='182.64' y='287.05' font-size='6.8' text-anchor='middle' class='t'>80</text>
<line x1="218.30" y1="274.30" x2="218.30" y2="279.30" stroke="#808080" stroke-width="1"/>
<text x='218.30' y='287.05' font-size='6.8' text-anchor='middle' class='t'>100</text>
<text x='95.80' y='296.40' font-size='8.2' textLength='69.50' lengthAdjust='spacingAndGlyphs'>Relative humidity (%)</text>
<text class='yl' transform='translate(12.80,285.80) rotate(-90)' font-size='8.2' textLength='107.70' lengthAdjust='spacingAndGlyphs'>Surface interaction energy (J/m<tspan dy='-2.87' font-size='5.33'>2</tspan><tspan dy='2.87'>)</tspan></text>
<line x1="44.10" y1="191.40" x2="56.90" y2="191.40" stroke="#2a8f4c" stroke-width="0.9" opacity="0.7"/>
<line x1="44.10" y1="198.50" x2="56.90" y2="198.50" stroke="#e8474f" stroke-width="0.9" opacity="0.7"/>
<text x='60.70' y='193.19' font-size='7.92' textLength='51.70' lengthAdjust='spacingAndGlyphs'>Capillary adhesion</text>
<text x='60.70' y='200.99' font-size='7.92' textLength='67.70' lengthAdjust='spacingAndGlyphs'>Van der Waals adhesion</text>
<text x='128.00' y='311.00' font-size='11.5' text-anchor='middle' font-family='"Liberation Serif", serif'>c</text>
<line x1="275.60" y1="180.00" x2="275.60" y2="272.50" stroke="#808080" stroke-width="1"/>
<line x1="275.10" y1="272.00" x2="458.50" y2="272.00" stroke="#808080" stroke-width="1"/>
<line x1="270.60" y1="271.20" x2="275.60" y2="271.20" stroke="#808080" stroke-width="1"/>
<text x='268.00' y='273.37' font-size='5.6' text-anchor='end' class='t'>0.00</text>
<line x1="270.60" y1="258.93" x2="275.60" y2="258.93" stroke="#808080" stroke-width="1"/>
<text x='268.00' y='261.10' font-size='5.6' text-anchor='end' class='t'>0.02</text>
<line x1="270.60" y1="246.66" x2="275.60" y2="246.66" stroke="#808080" stroke-width="1"/>
<text x='268.00' y='248.83' font-size='5.6' text-anchor='end' class='t'>0.04</text>
<line x1="270.60" y1="234.39" x2="275.60" y2="234.39" stroke="#808080" stroke-width="1"/>
<text x='268.00' y='236.56' font-size='5.6' text-anchor='end' class='t'>0.06</text>
<line x1="270.60" y1="222.12" x2="275.60" y2="222.12" stroke="#808080" stroke-width="1"/>
<text x='268.00' y='224.29' font-size='5.6' text-anchor='end' class='t'>0.08</text>
<line x1="270.60" y1="209.85" x2="275.60" y2="209.85" stroke="#808080" stroke-width="1"/>
<text x='268.00' y='212.02' font-size='5.6' text-anchor='end' class='t'>0.10</text>
<line x1="270.60" y1="197.58" x2="275.60" y2="197.58" stroke="#808080" stroke-width="1"/>
<text x='268.00' y='199.75' font-size='5.6' text-anchor='end' class='t'>0.12</text>
<line x1="270.60" y1="185.31" x2="275.60" y2="185.31" stroke="#808080" stroke-width="1"/>
<text x='268.00' y='187.48' font-size='5.6' text-anchor='end' class='t'>0.14</text>
<line x1="275.60" y1="272.00" x2="275.60" y2="277.00" stroke="#808080" stroke-width="1"/>
<text x='275.60' y='283.62' font-size='5.6' text-anchor='middle' class='t'>0</text>
<line x1="312.08" y1="272.00" x2="312.08" y2="277.00" stroke="#808080" stroke-width="1"/>
<text x='312.08' y='283.62' font-size='5.6' text-anchor='middle' class='t'>20</text>
<line x1="348.56" y1="272.00" x2="348.56" y2="277.00" stroke="#808080" stroke-width="1"/>
<text x='348.56' y='283.62' font-size='5.6' text-anchor='middle' class='t'>40</text>
<line x1="385.04" y1="272.00" x2="385.04" y2="277.00" stroke="#808080" stroke-width="1"/>
<text x='385.04' y='283.62' font-size='5.6' text-anchor='middle' class='t'>60</text>
<line x1="421.52" y1="272.00" x2="421.52" y2="277.00" stroke="#808080" stroke-width="1"/>
<text x='421.52' y='283.62' font-size='5.6' text-anchor='middle' class='t'>80</text>
<line x1="458.00" y1="272.00" x2="458.00" y2="277.00" stroke="#808080" stroke-width="1"/>
<text x='458.00' y='283.62' font-size='5.6' text-anchor='middle' class='t'>100</text>
<text x='333.00' y='294.90' font-size='8.2' textLength='70.60' lengthAdjust='spacingAndGlyphs'>Relative humidity (%)</text>
<text class='yl' transform='translate(247.90,285.00) rotate(-90)' font-size='8.2' textLength='111.20' lengthAdjust='spacingAndGlyphs'>Surface interaction energy (J/m<tspan dy='-2.87' font-size='5.33'>2</tspan><tspan dy='2.87'>)</tspan></text>
<line x1="285.30" y1="195.50" x2="295.80" y2="195.50" stroke="#2a8f4c" stroke-width="0.9" opacity="0.7"/>
<line x1="285.30" y1="201.40" x2="295.80" y2="201.40" stroke="#e8474f" stroke-width="0.9" opacity="0.7"/>
<text x='301.70' y='196.93' font-size='8.39' textLength='53.00' lengthAdjust='spacingAndGlyphs'>Capillary adhesion</text>
<text x='301.70' y='204.63' font-size='8.39' textLength='69.30' lengthAdjust='spacingAndGlyphs'>Van der Waals adhesion</text>
<text x='364.10' y='310.70' font-size='11.5' text-anchor='middle' font-family='"Liberation Serif", serif'>d</text>
<line x1="43.50" y1="339.00" x2="43.50" y2="429.80" stroke="#808080" stroke-width="1"/>
<line x1="43.00" y1="429.30" x2="220.30" y2="429.30" stroke="#808080" stroke-width="1"/>
<line x1="38.50" y1="428.40" x2="43.50" y2="428.40" stroke="#808080" stroke-width="1"/>
<text x='37.20' y='429.95' font-size='5.9' text-anchor='end' class='t'>0.00</text>
<line x1="38.50" y1="416.40" x2="43.50" y2="416.40" stroke="#808080" stroke-width="1"/>
<text x='37.20' y='417.95' font-size='5.9' text-anchor='end' class='t'>0.02</text>
<line x1="38.50" y1="404.40" x2="43.50" y2="404.40" stroke="#808080" stroke-width="1"/>
<text x='37.20' y='405.95' font-size='5.9' text-anchor='end' class='t'>0.04</text>
<line x1="38.50" y1="392.40" x2="43.50" y2="392.40" stroke="#808080" stroke-width="1"/>
<text x='37.20' y='393.95' font-size='5.9' text-anchor='end' class='t'>0.06</text>
<line x1="38.50" y1="380.40" x2="43.50" y2="380.40" stroke="#808080" stroke-width="1"/>
<text x='37.20' y='381.95' font-size='5.9' text-anchor='end' class='t'>0.08</text>
<line x1="38.50" y1="368.40" x2="43.50" y2="368.40" stroke="#808080" stroke-width="1"/>
<text x='37.20' y='369.95' font-size='5.9' text-anchor='end' class='t'>0.10</text>
<line x1="38.50" y1="356.40" x2="43.50" y2="356.40" stroke="#808080" stroke-width="1"/>
<text x='37.20' y='357.95' font-size='5.9' text-anchor='end' class='t'>0.12</text>
<line x1="38.50" y1="344.40" x2="43.50" y2="344.40" stroke="#808080" stroke-width="1"/>
<text x='37.20' y='345.95' font-size='5.9' text-anchor='end' class='t'>0.14</text>
<line x1="43.80" y1="429.30" x2="43.80" y2="434.30" stroke="#808080" stroke-width="1"/>
<text x='43.80' y='440.52' font-size='5.9' text-anchor='middle' class='t'>0</text>
<line x1="79.00" y1="429.30" x2="79.00" y2="434.30" stroke="#808080" stroke-width="1"/>
<text x='79.00' y='440.52' font-size='5.9' text-anchor='middle' class='t'>20</text>
<line x1="114.20" y1="429.30" x2="114.20" y2="434.30" stroke="#808080" stroke-width="1"/>
<text x='114.20' y='440.52' font-size='5.9' text-anchor='middle' class='t'>40</text>
<line x1="149.40" y1="429.30" x2="149.40" y2="434.30" stroke="#808080" stroke-width="1"/>
<text x='149.40' y='440.52' font-size='5.9' text-anchor='middle' class='t'>60</text>
<line x1="184.60" y1="429.30" x2="184.60" y2="434.30" stroke="#808080" stroke-width="1"/>
<text x='184.60' y='440.52' font-size='5.9' text-anchor='middle' class='t'>80</text>
<line x1="219.80" y1="429.30" x2="219.80" y2="434.30" stroke="#808080" stroke-width="1"/>
<text x='219.80' y='440.52' font-size='5.9' text-anchor='middle' class='t'>100</text>
<text x='98.50' y='451.50' font-size='8.0' textLength='69.20' lengthAdjust='spacingAndGlyphs'>Relative humidity (%)</text>
<text class='yl' transform='translate(15.80,442.10) rotate(-90)' font-size='8.0' textLength='108.00' lengthAdjust='spacingAndGlyphs'>Surface interaction energy (J/m<tspan dy='-2.80' font-size='5.20'>2</tspan><tspan dy='2.80'>)</tspan></text>
<line x1="54.20" y1="352.40" x2="64.30" y2="352.40" stroke="#2a8f4c" stroke-width="0.9" opacity="0.7"/>
<line x1="54.20" y1="358.90" x2="64.30" y2="358.90" stroke="#e8474f" stroke-width="1.8" opacity="0.35"/>
<text x='69.40' y='354.32' font-size='7.84' textLength='50.70' lengthAdjust='spacingAndGlyphs'>Capillary adhesion</text>
<text x='69.40' y='362.12' font-size='7.84' textLength='67.30' lengthAdjust='spacingAndGlyphs'>Van der Waals adhesion</text>
<text x='133.20' y='465.70' font-size='11' text-anchor='middle' font-family='"Liberation Sans", sans-serif'>e</text>
<line x1="273.50" y1="336.60" x2="273.50" y2="428.70" stroke="#808080" stroke-width="1"/>
<line x1="273.00" y1="428.20" x2="455.90" y2="428.20" stroke="#808080" stroke-width="1"/>
<line x1="268.50" y1="427.40" x2="273.50" y2="427.40" stroke="#808080" stroke-width="1"/>
<text x='267.00' y='429.81' font-size='5.75' text-anchor='end' class='t'>0.00</text>
<line x1="268.50" y1="414.84" x2="273.50" y2="414.84" stroke="#808080" stroke-width="1"/>
<text x='267.00' y='417.25' font-size='5.75' text-anchor='end' class='t'>0.02</text>
<line x1="268.50" y1="402.29" x2="273.50" y2="402.29" stroke="#808080" stroke-width="1"/>
<text x='267.00' y='404.70' font-size='5.75' text-anchor='end' class='t'>0.04</text>
<line x1="268.50" y1="389.73" x2="273.50" y2="389.73" stroke="#808080" stroke-width="1"/>
<text x='267.00' y='392.14' font-size='5.75' text-anchor='end' class='t'>0.06</text>
<line x1="268.50" y1="377.17" x2="273.50" y2="377.17" stroke="#808080" stroke-width="1"/>
<text x='267.00' y='379.58' font-size='5.75' text-anchor='end' class='t'>0.08</text>
<line x1="268.50" y1="364.61" x2="273.50" y2="364.61" stroke="#808080" stroke-width="1"/>
<text x='267.00' y='367.02' font-size='5.75' text-anchor='end' class='t'>0.10</text>
<line x1="268.50" y1="352.06" x2="273.50" y2="352.06" stroke="#808080" stroke-width="1"/>
<text x='267.00' y='354.47' font-size='5.75' text-anchor='end' class='t'>0.12</text>
<line x1="268.50" y1="339.50" x2="273.50" y2="339.50" stroke="#808080" stroke-width="1"/>
<text x='267.00' y='341.91' font-size='5.75' text-anchor='end' class='t'>0.14</text>
<line x1="273.70" y1="428.20" x2="273.70" y2="433.20" stroke="#808080" stroke-width="1"/>
<text x='273.70' y='440.57' font-size='5.75' text-anchor='middle' class='t'>0</text>
<line x1="310.04" y1="428.20" x2="310.04" y2="433.20" stroke="#808080" stroke-width="1"/>
<text x='310.04' y='440.57' font-size='5.75' text-anchor='middle' class='t'>20</text>
<line x1="346.38" y1="428.20" x2="346.38" y2="433.20" stroke="#808080" stroke-width="1"/>
<text x='346.38' y='440.57' font-size='5.75' text-anchor='middle' class='t'>40</text>
<line x1="382.72" y1="428.20" x2="382.72" y2="433.20" stroke="#808080" stroke-width="1"/>
<text x='382.72' y='440.57' font-size='5.75' text-anchor='middle' class='t'>60</text>
<line x1="419.06" y1="428.20" x2="419.06" y2="433.20" stroke="#808080" stroke-width="1"/>
<text x='419.06' y='440.57' font-size='5.75' text-anchor='middle' class='t'>80</text>
<line x1="455.40" y1="428.20" x2="455.40" y2="433.20" stroke="#808080" stroke-width="1"/>
<text x='455.40' y='440.57' font-size='5.75' text-anchor='middle' class='t'>100</text>
<text x='331.10' y='451.80' font-size='8.2' textLength='71.20' lengthAdjust='spacingAndGlyphs'>Relative humidity (%)</text>
<text class='yl' transform='translate(246.60,441.70) rotate(-90)' font-size='8.2' textLength='110.60' lengthAdjust='spacingAndGlyphs'>Surface interaction energy (J/m<tspan dy='-2.87' font-size='5.33'>2</tspan><tspan dy='2.87'>)</tspan></text>
<line x1="286.30" y1="349.80" x2="297.30" y2="349.80" stroke="#2a8f4c" stroke-width="0.9" opacity="0.7"/>
<line x1="286.30" y1="356.00" x2="297.30" y2="356.00" stroke="#e8474f" stroke-width="1.8" opacity="0.35"/>
<text x='302.10' y='350.59' font-size='7.78' textLength='52.60' lengthAdjust='spacingAndGlyphs'>Capillary adhesion</text>
<text x='302.10' y='358.99' font-size='7.78' textLength='69.50' lengthAdjust='spacingAndGlyphs'>Van der Waals adhesion</text>
<text x='368.10' y='465.60' font-size='11' text-anchor='middle' font-family='"Liberation Sans", sans-serif'>f</text>
</svg>
</body></html>
